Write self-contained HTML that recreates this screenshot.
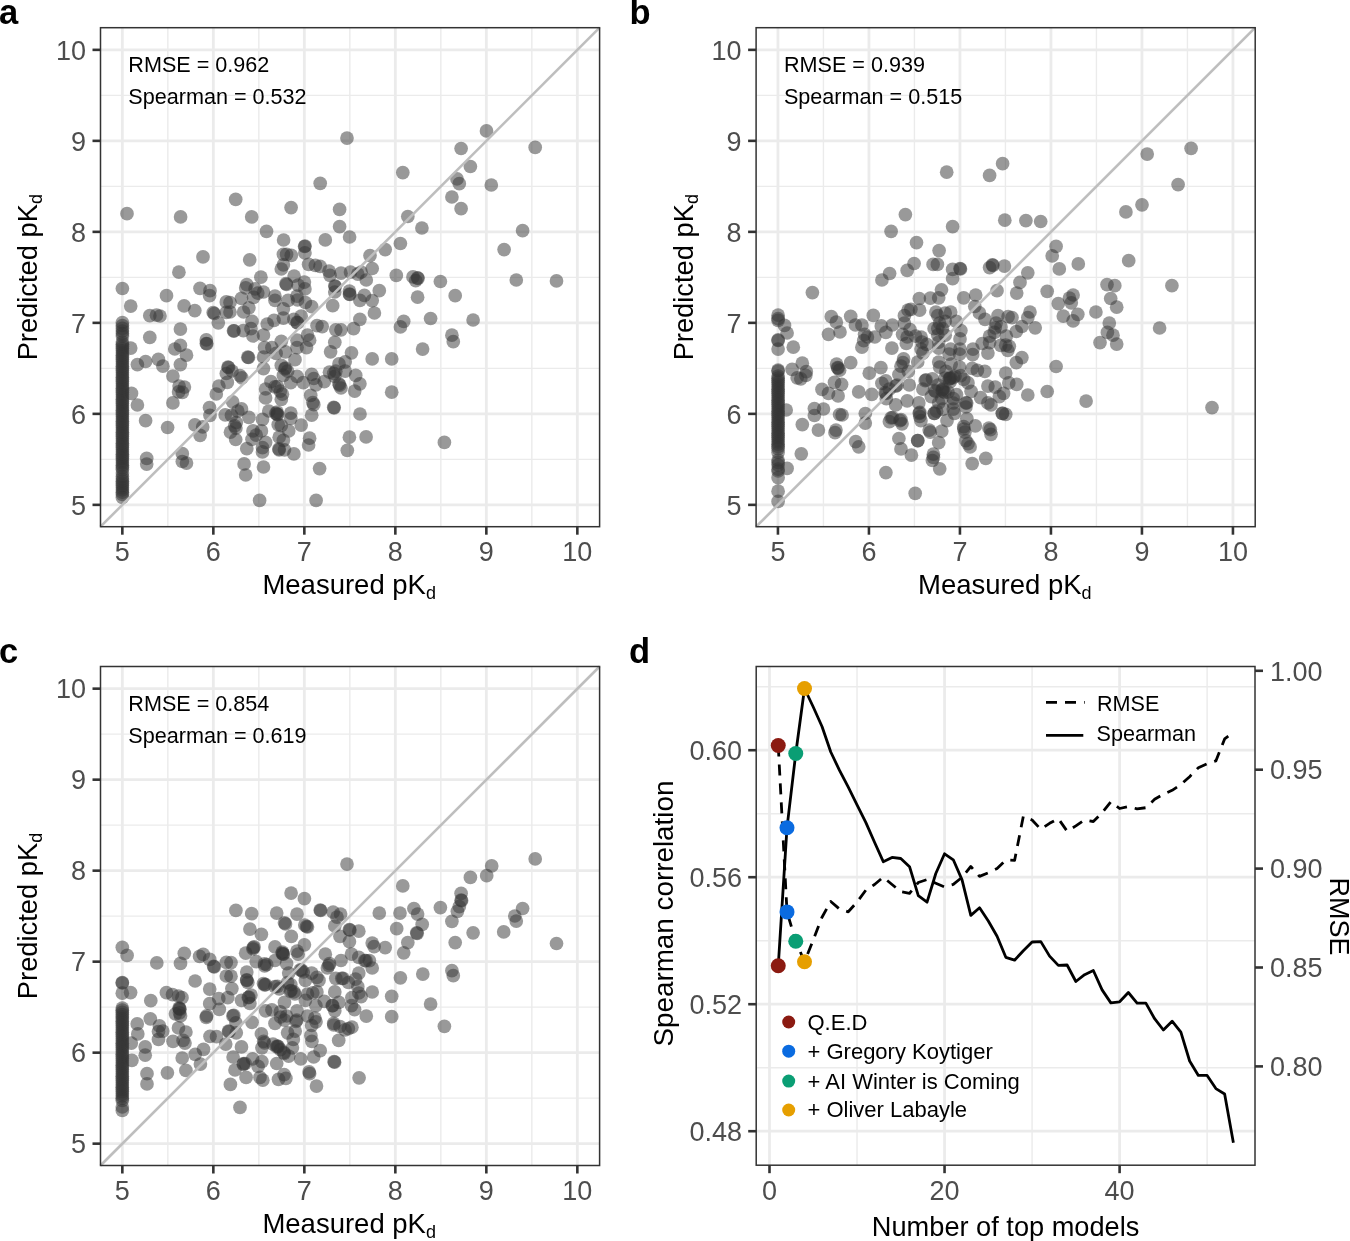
<!DOCTYPE html>
<html><head><meta charset="utf-8"><style>
html,body{margin:0;padding:0;background:#fff;width:1350px;height:1241px;overflow:hidden}
svg{display:block;font-family:"Liberation Sans", sans-serif;will-change:transform}
</style></head><body>
<svg width="1350" height="1241" viewBox="0 0 1350 1241" font-family='"Liberation Sans", sans-serif'>
<rect width="1350" height="1241" fill="#fff"/>
<rect x="100.5" y="27.7" width="499.1" height="499.00000000000006" fill="#fff"/>
<line x1="167.84" y1="27.7" x2="167.84" y2="526.7" stroke="#EBEBEB" stroke-width="1.4"/>
<line x1="100.5" y1="459.36" x2="599.6" y2="459.36" stroke="#EBEBEB" stroke-width="1.4"/>
<line x1="258.84" y1="27.7" x2="258.84" y2="526.7" stroke="#EBEBEB" stroke-width="1.4"/>
<line x1="100.5" y1="368.36" x2="599.6" y2="368.36" stroke="#EBEBEB" stroke-width="1.4"/>
<line x1="349.84" y1="27.7" x2="349.84" y2="526.7" stroke="#EBEBEB" stroke-width="1.4"/>
<line x1="100.5" y1="277.36" x2="599.6" y2="277.36" stroke="#EBEBEB" stroke-width="1.4"/>
<line x1="440.84" y1="27.7" x2="440.84" y2="526.7" stroke="#EBEBEB" stroke-width="1.4"/>
<line x1="100.5" y1="186.36" x2="599.6" y2="186.36" stroke="#EBEBEB" stroke-width="1.4"/>
<line x1="531.84" y1="27.7" x2="531.84" y2="526.7" stroke="#EBEBEB" stroke-width="1.4"/>
<line x1="100.5" y1="95.36" x2="599.6" y2="95.36" stroke="#EBEBEB" stroke-width="1.4"/>
<line x1="122.34" y1="27.7" x2="122.34" y2="526.7" stroke="#EBEBEB" stroke-width="2.8"/>
<line x1="100.5" y1="504.86" x2="599.6" y2="504.86" stroke="#EBEBEB" stroke-width="2.8"/>
<line x1="213.34" y1="27.7" x2="213.34" y2="526.7" stroke="#EBEBEB" stroke-width="2.8"/>
<line x1="100.5" y1="413.86" x2="599.6" y2="413.86" stroke="#EBEBEB" stroke-width="2.8"/>
<line x1="304.34" y1="27.7" x2="304.34" y2="526.7" stroke="#EBEBEB" stroke-width="2.8"/>
<line x1="100.5" y1="322.86" x2="599.6" y2="322.86" stroke="#EBEBEB" stroke-width="2.8"/>
<line x1="395.34" y1="27.7" x2="395.34" y2="526.7" stroke="#EBEBEB" stroke-width="2.8"/>
<line x1="100.5" y1="231.86" x2="599.6" y2="231.86" stroke="#EBEBEB" stroke-width="2.8"/>
<line x1="486.34" y1="27.7" x2="486.34" y2="526.7" stroke="#EBEBEB" stroke-width="2.8"/>
<line x1="100.5" y1="140.86" x2="599.6" y2="140.86" stroke="#EBEBEB" stroke-width="2.8"/>
<line x1="577.34" y1="27.7" x2="577.34" y2="526.7" stroke="#EBEBEB" stroke-width="2.8"/>
<line x1="100.5" y1="49.86" x2="599.6" y2="49.86" stroke="#EBEBEB" stroke-width="2.8"/>
<g fill="#333333" fill-opacity="0.5">
<circle cx="127.0" cy="213.7" r="6.85"/>
<circle cx="180.6" cy="216.9" r="6.85"/>
<circle cx="235.7" cy="199.4" r="6.85"/>
<circle cx="251.7" cy="216.9" r="6.85"/>
<circle cx="291.1" cy="207.6" r="6.85"/>
<circle cx="320.2" cy="183.3" r="6.85"/>
<circle cx="339.6" cy="209.4" r="6.85"/>
<circle cx="339.6" cy="226.7" r="6.85"/>
<circle cx="347.0" cy="138.1" r="6.85"/>
<circle cx="266.5" cy="231.3" r="6.85"/>
<circle cx="486.5" cy="130.9" r="6.85"/>
<circle cx="461.1" cy="148.5" r="6.85"/>
<circle cx="535.2" cy="147.4" r="6.85"/>
<circle cx="402.8" cy="172.6" r="6.85"/>
<circle cx="470.4" cy="166.5" r="6.85"/>
<circle cx="457.0" cy="178.9" r="6.85"/>
<circle cx="459.3" cy="183.7" r="6.85"/>
<circle cx="491.3" cy="185.0" r="6.85"/>
<circle cx="451.9" cy="197.0" r="6.85"/>
<circle cx="461.1" cy="208.7" r="6.85"/>
<circle cx="407.8" cy="216.5" r="6.85"/>
<circle cx="421.9" cy="228.0" r="6.85"/>
<circle cx="522.6" cy="230.7" r="6.85"/>
<circle cx="122.4" cy="288.5" r="6.85"/>
<circle cx="130.7" cy="306.1" r="6.85"/>
<circle cx="149.8" cy="315.7" r="6.85"/>
<circle cx="156.5" cy="315.2" r="6.85"/>
<circle cx="160.0" cy="316.0" r="6.85"/>
<circle cx="166.5" cy="295.7" r="6.85"/>
<circle cx="178.9" cy="272.2" r="6.85"/>
<circle cx="184.1" cy="305.9" r="6.85"/>
<circle cx="194.8" cy="310.6" r="6.85"/>
<circle cx="203.0" cy="256.9" r="6.85"/>
<circle cx="200.0" cy="288.3" r="6.85"/>
<circle cx="210.0" cy="290.7" r="6.85"/>
<circle cx="209.6" cy="295.7" r="6.85"/>
<circle cx="213.2" cy="312.5" r="6.85"/>
<circle cx="214.2" cy="313.5" r="6.85"/>
<circle cx="218.3" cy="322.8" r="6.85"/>
<circle cx="226.3" cy="301.9" r="6.85"/>
<circle cx="226.3" cy="312.4" r="6.85"/>
<circle cx="180.4" cy="329.1" r="6.85"/>
<circle cx="149.8" cy="337.4" r="6.85"/>
<circle cx="206.3" cy="339.8" r="6.85"/>
<circle cx="206.3" cy="343.5" r="6.85"/>
<circle cx="206.8" cy="343.8" r="6.85"/>
<circle cx="180.4" cy="345.4" r="6.85"/>
<circle cx="174.8" cy="349.0" r="6.85"/>
<circle cx="130.7" cy="348.1" r="6.85"/>
<circle cx="234.1" cy="330.9" r="6.85"/>
<circle cx="243.3" cy="330.6" r="6.85"/>
<circle cx="283.6" cy="240.0" r="6.85"/>
<circle cx="349.6" cy="237.0" r="6.85"/>
<circle cx="325.3" cy="239.9" r="6.85"/>
<circle cx="304.6" cy="246.5" r="6.85"/>
<circle cx="305.0" cy="246.0" r="6.85"/>
<circle cx="304.9" cy="252.8" r="6.85"/>
<circle cx="249.7" cy="259.8" r="6.85"/>
<circle cx="283.4" cy="254.3" r="6.85"/>
<circle cx="286.6" cy="254.3" r="6.85"/>
<circle cx="291.3" cy="255.4" r="6.85"/>
<circle cx="283.4" cy="264.8" r="6.85"/>
<circle cx="281.3" cy="269.0" r="6.85"/>
<circle cx="308.6" cy="264.3" r="6.85"/>
<circle cx="315.4" cy="265.3" r="6.85"/>
<circle cx="320.1" cy="266.4" r="6.85"/>
<circle cx="329.0" cy="271.1" r="6.85"/>
<circle cx="330.0" cy="275.3" r="6.85"/>
<circle cx="341.0" cy="273.2" r="6.85"/>
<circle cx="350.5" cy="272.1" r="6.85"/>
<circle cx="357.8" cy="274.2" r="6.85"/>
<circle cx="260.9" cy="277.2" r="6.85"/>
<circle cx="294.1" cy="276.1" r="6.85"/>
<circle cx="286.0" cy="283.7" r="6.85"/>
<circle cx="286.5" cy="284.5" r="6.85"/>
<circle cx="304.4" cy="282.1" r="6.85"/>
<circle cx="298.1" cy="285.2" r="6.85"/>
<circle cx="304.9" cy="288.9" r="6.85"/>
<circle cx="246.8" cy="284.7" r="6.85"/>
<circle cx="245.7" cy="287.9" r="6.85"/>
<circle cx="255.1" cy="288.9" r="6.85"/>
<circle cx="257.8" cy="293.1" r="6.85"/>
<circle cx="263.5" cy="292.0" r="6.85"/>
<circle cx="241.5" cy="298.3" r="6.85"/>
<circle cx="253.6" cy="297.3" r="6.85"/>
<circle cx="275.0" cy="296.2" r="6.85"/>
<circle cx="275.0" cy="300.4" r="6.85"/>
<circle cx="288.1" cy="300.4" r="6.85"/>
<circle cx="297.0" cy="296.2" r="6.85"/>
<circle cx="297.5" cy="300.0" r="6.85"/>
<circle cx="305.4" cy="302.5" r="6.85"/>
<circle cx="311.7" cy="306.7" r="6.85"/>
<circle cx="332.7" cy="305.7" r="6.85"/>
<circle cx="334.8" cy="285.8" r="6.85"/>
<circle cx="335.3" cy="286.5" r="6.85"/>
<circle cx="334.8" cy="292.0" r="6.85"/>
<circle cx="349.4" cy="291.0" r="6.85"/>
<circle cx="349.4" cy="294.1" r="6.85"/>
<circle cx="349.9" cy="294.5" r="6.85"/>
<circle cx="359.9" cy="300.4" r="6.85"/>
<circle cx="248.9" cy="307.8" r="6.85"/>
<circle cx="243.6" cy="312.0" r="6.85"/>
<circle cx="230.0" cy="302.5" r="6.85"/>
<circle cx="230.0" cy="312.0" r="6.85"/>
<circle cx="283.4" cy="308.8" r="6.85"/>
<circle cx="252.0" cy="321.4" r="6.85"/>
<circle cx="267.2" cy="324.0" r="6.85"/>
<circle cx="274.0" cy="320.3" r="6.85"/>
<circle cx="283.4" cy="318.2" r="6.85"/>
<circle cx="293.9" cy="319.3" r="6.85"/>
<circle cx="297.0" cy="322.4" r="6.85"/>
<circle cx="297.5" cy="322.9" r="6.85"/>
<circle cx="301.2" cy="316.1" r="6.85"/>
<circle cx="317.0" cy="325.6" r="6.85"/>
<circle cx="322.2" cy="326.6" r="6.85"/>
<circle cx="335.8" cy="329.8" r="6.85"/>
<circle cx="341.0" cy="329.8" r="6.85"/>
<circle cx="353.6" cy="328.7" r="6.85"/>
<circle cx="359.9" cy="319.3" r="6.85"/>
<circle cx="251.0" cy="328.7" r="6.85"/>
<circle cx="253.0" cy="336.0" r="6.85"/>
<circle cx="263.5" cy="335.0" r="6.85"/>
<circle cx="264.6" cy="347.6" r="6.85"/>
<circle cx="271.9" cy="347.6" r="6.85"/>
<circle cx="281.3" cy="341.3" r="6.85"/>
<circle cx="297.0" cy="340.2" r="6.85"/>
<circle cx="307.5" cy="335.0" r="6.85"/>
<circle cx="309.6" cy="340.2" r="6.85"/>
<circle cx="306.5" cy="347.6" r="6.85"/>
<circle cx="297.0" cy="347.6" r="6.85"/>
<circle cx="334.8" cy="342.3" r="6.85"/>
<circle cx="330.6" cy="351.8" r="6.85"/>
<circle cx="351.5" cy="352.8" r="6.85"/>
<circle cx="285.5" cy="351.8" r="6.85"/>
<circle cx="400.4" cy="243.5" r="6.85"/>
<circle cx="385.2" cy="249.6" r="6.85"/>
<circle cx="370.0" cy="255.6" r="6.85"/>
<circle cx="504.1" cy="249.6" r="6.85"/>
<circle cx="372.2" cy="268.5" r="6.85"/>
<circle cx="361.1" cy="272.2" r="6.85"/>
<circle cx="366.3" cy="280.0" r="6.85"/>
<circle cx="396.3" cy="275.4" r="6.85"/>
<circle cx="413.0" cy="276.9" r="6.85"/>
<circle cx="417.6" cy="277.8" r="6.85"/>
<circle cx="418.0" cy="278.3" r="6.85"/>
<circle cx="415.7" cy="280.6" r="6.85"/>
<circle cx="440.4" cy="281.5" r="6.85"/>
<circle cx="516.3" cy="280.0" r="6.85"/>
<circle cx="556.5" cy="280.9" r="6.85"/>
<circle cx="379.3" cy="290.7" r="6.85"/>
<circle cx="364.4" cy="295.4" r="6.85"/>
<circle cx="372.2" cy="300.6" r="6.85"/>
<circle cx="417.6" cy="297.2" r="6.85"/>
<circle cx="455.2" cy="295.7" r="6.85"/>
<circle cx="374.4" cy="313.0" r="6.85"/>
<circle cx="403.7" cy="321.3" r="6.85"/>
<circle cx="400.4" cy="326.9" r="6.85"/>
<circle cx="430.6" cy="318.5" r="6.85"/>
<circle cx="473.1" cy="320.0" r="6.85"/>
<circle cx="451.9" cy="335.2" r="6.85"/>
<circle cx="453.3" cy="341.7" r="6.85"/>
<circle cx="422.6" cy="349.1" r="6.85"/>
<circle cx="137.4" cy="364.6" r="6.85"/>
<circle cx="145.6" cy="361.5" r="6.85"/>
<circle cx="158.4" cy="359.4" r="6.85"/>
<circle cx="162.9" cy="366.2" r="6.85"/>
<circle cx="186.5" cy="355.2" r="6.85"/>
<circle cx="180.4" cy="364.6" r="6.85"/>
<circle cx="172.9" cy="376.1" r="6.85"/>
<circle cx="179.1" cy="386.1" r="6.85"/>
<circle cx="184.4" cy="387.1" r="6.85"/>
<circle cx="182.3" cy="392.4" r="6.85"/>
<circle cx="178.6" cy="391.9" r="6.85"/>
<circle cx="131.5" cy="393.4" r="6.85"/>
<circle cx="137.4" cy="405.0" r="6.85"/>
<circle cx="172.9" cy="402.9" r="6.85"/>
<circle cx="145.6" cy="420.7" r="6.85"/>
<circle cx="167.6" cy="427.5" r="6.85"/>
<circle cx="146.7" cy="458.4" r="6.85"/>
<circle cx="146.7" cy="464.1" r="6.85"/>
<circle cx="182.3" cy="453.7" r="6.85"/>
<circle cx="182.3" cy="461.5" r="6.85"/>
<circle cx="186.5" cy="463.1" r="6.85"/>
<circle cx="228.0" cy="367.0" r="6.85"/>
<circle cx="232.0" cy="371.0" r="6.85"/>
<circle cx="226.3" cy="373.5" r="6.85"/>
<circle cx="240.0" cy="375.6" r="6.85"/>
<circle cx="227.3" cy="382.4" r="6.85"/>
<circle cx="218.9" cy="386.1" r="6.85"/>
<circle cx="216.3" cy="394.0" r="6.85"/>
<circle cx="232.6" cy="401.8" r="6.85"/>
<circle cx="209.5" cy="407.6" r="6.85"/>
<circle cx="210.0" cy="415.4" r="6.85"/>
<circle cx="225.2" cy="414.9" r="6.85"/>
<circle cx="231.5" cy="415.4" r="6.85"/>
<circle cx="237.8" cy="411.2" r="6.85"/>
<circle cx="194.9" cy="424.9" r="6.85"/>
<circle cx="202.7" cy="426.9" r="6.85"/>
<circle cx="200.1" cy="435.3" r="6.85"/>
<circle cx="230.5" cy="432.2" r="6.85"/>
<circle cx="234.7" cy="425.9" r="6.85"/>
<circle cx="235.7" cy="439.5" r="6.85"/>
<circle cx="248.5" cy="357.5" r="6.85"/>
<circle cx="263.5" cy="357.0" r="6.85"/>
<circle cx="276.1" cy="353.4" r="6.85"/>
<circle cx="295.0" cy="359.7" r="6.85"/>
<circle cx="345.2" cy="361.8" r="6.85"/>
<circle cx="339.0" cy="363.9" r="6.85"/>
<circle cx="281.3" cy="365.4" r="6.85"/>
<circle cx="285.5" cy="368.0" r="6.85"/>
<circle cx="287.6" cy="371.2" r="6.85"/>
<circle cx="283.4" cy="375.4" r="6.85"/>
<circle cx="263.5" cy="368.6" r="6.85"/>
<circle cx="270.9" cy="381.7" r="6.85"/>
<circle cx="275.0" cy="386.9" r="6.85"/>
<circle cx="265.6" cy="389.0" r="6.85"/>
<circle cx="280.3" cy="391.1" r="6.85"/>
<circle cx="282.4" cy="394.2" r="6.85"/>
<circle cx="265.6" cy="397.9" r="6.85"/>
<circle cx="281.3" cy="399.5" r="6.85"/>
<circle cx="297.0" cy="376.4" r="6.85"/>
<circle cx="290.8" cy="382.7" r="6.85"/>
<circle cx="303.3" cy="382.7" r="6.85"/>
<circle cx="311.7" cy="374.3" r="6.85"/>
<circle cx="313.8" cy="378.5" r="6.85"/>
<circle cx="315.9" cy="384.8" r="6.85"/>
<circle cx="324.3" cy="381.7" r="6.85"/>
<circle cx="329.5" cy="372.2" r="6.85"/>
<circle cx="335.8" cy="371.2" r="6.85"/>
<circle cx="334.8" cy="376.4" r="6.85"/>
<circle cx="339.0" cy="383.8" r="6.85"/>
<circle cx="341.0" cy="388.0" r="6.85"/>
<circle cx="345.2" cy="371.2" r="6.85"/>
<circle cx="354.7" cy="391.1" r="6.85"/>
<circle cx="355.7" cy="375.4" r="6.85"/>
<circle cx="359.9" cy="383.8" r="6.85"/>
<circle cx="310.7" cy="395.3" r="6.85"/>
<circle cx="312.8" cy="402.6" r="6.85"/>
<circle cx="313.8" cy="404.7" r="6.85"/>
<circle cx="311.7" cy="415.2" r="6.85"/>
<circle cx="333.7" cy="407.3" r="6.85"/>
<circle cx="334.2" cy="407.8" r="6.85"/>
<circle cx="360.0" cy="414.0" r="6.85"/>
<circle cx="268.8" cy="411.0" r="6.85"/>
<circle cx="277.1" cy="414.1" r="6.85"/>
<circle cx="277.6" cy="414.6" r="6.85"/>
<circle cx="277.1" cy="412.0" r="6.85"/>
<circle cx="290.8" cy="413.1" r="6.85"/>
<circle cx="290.8" cy="418.3" r="6.85"/>
<circle cx="278.2" cy="424.6" r="6.85"/>
<circle cx="281.3" cy="425.7" r="6.85"/>
<circle cx="301.2" cy="425.1" r="6.85"/>
<circle cx="288.7" cy="430.9" r="6.85"/>
<circle cx="262.5" cy="419.4" r="6.85"/>
<circle cx="248.9" cy="417.3" r="6.85"/>
<circle cx="241.5" cy="408.9" r="6.85"/>
<circle cx="236.3" cy="422.5" r="6.85"/>
<circle cx="253.0" cy="430.9" r="6.85"/>
<circle cx="256.2" cy="435.1" r="6.85"/>
<circle cx="261.4" cy="430.9" r="6.85"/>
<circle cx="252.0" cy="439.3" r="6.85"/>
<circle cx="265.6" cy="442.4" r="6.85"/>
<circle cx="262.5" cy="447.7" r="6.85"/>
<circle cx="262.5" cy="451.9" r="6.85"/>
<circle cx="246.8" cy="448.7" r="6.85"/>
<circle cx="279.2" cy="437.2" r="6.85"/>
<circle cx="283.4" cy="440.3" r="6.85"/>
<circle cx="279.2" cy="449.8" r="6.85"/>
<circle cx="284.5" cy="449.8" r="6.85"/>
<circle cx="293.9" cy="453.9" r="6.85"/>
<circle cx="309.6" cy="438.2" r="6.85"/>
<circle cx="308.6" cy="445.0" r="6.85"/>
<circle cx="349.4" cy="437.2" r="6.85"/>
<circle cx="347.3" cy="450.3" r="6.85"/>
<circle cx="366.1" cy="436.9" r="6.85"/>
<circle cx="244.1" cy="463.9" r="6.85"/>
<circle cx="263.5" cy="467.0" r="6.85"/>
<circle cx="319.6" cy="468.6" r="6.85"/>
<circle cx="245.7" cy="475.0" r="6.85"/>
<circle cx="372.2" cy="358.9" r="6.85"/>
<circle cx="391.7" cy="358.9" r="6.85"/>
<circle cx="391.7" cy="392.2" r="6.85"/>
<circle cx="444.4" cy="442.4" r="6.85"/>
<circle cx="259.6" cy="500.4" r="6.85"/>
<circle cx="316.1" cy="500.4" r="6.85"/>
<circle cx="333.7" cy="373.3" r="6.85"/>
<circle cx="339.6" cy="385.2" r="6.85"/>
<circle cx="284.8" cy="368.9" r="6.85"/>
<circle cx="277.4" cy="386.7" r="6.85"/>
<circle cx="275.9" cy="413.3" r="6.85"/>
<circle cx="235.9" cy="428.1" r="6.85"/>
<circle cx="241.9" cy="377.8" r="6.85"/>
<circle cx="278.9" cy="448.9" r="6.85"/>
<circle cx="247.8" cy="357.2" r="6.85"/>
<circle cx="233.5" cy="330.8" r="6.85"/>
<circle cx="228.5" cy="367.5" r="6.85"/>
<circle cx="122.4" cy="322.6" r="6.85"/>
<circle cx="122.4" cy="325.5" r="6.85"/>
<circle cx="122.4" cy="328.4" r="6.85"/>
<circle cx="122.4" cy="331.0" r="6.85"/>
<circle cx="122.4" cy="333.7" r="6.85"/>
<circle cx="122.4" cy="336.0" r="6.85"/>
<circle cx="122.4" cy="342.0" r="6.85"/>
<circle cx="122.4" cy="344.2" r="6.85"/>
<circle cx="122.4" cy="346.4" r="6.85"/>
<circle cx="122.4" cy="348.6" r="6.85"/>
<circle cx="122.4" cy="350.8" r="6.85"/>
<circle cx="122.4" cy="353.0" r="6.85"/>
<circle cx="122.4" cy="355.2" r="6.85"/>
<circle cx="122.4" cy="357.4" r="6.85"/>
<circle cx="122.4" cy="359.6" r="6.85"/>
<circle cx="122.4" cy="361.8" r="6.85"/>
<circle cx="122.4" cy="364.0" r="6.85"/>
<circle cx="122.4" cy="366.2" r="6.85"/>
<circle cx="122.4" cy="368.4" r="6.85"/>
<circle cx="122.4" cy="370.6" r="6.85"/>
<circle cx="122.4" cy="372.8" r="6.85"/>
<circle cx="122.4" cy="375.0" r="6.85"/>
<circle cx="122.4" cy="377.2" r="6.85"/>
<circle cx="122.4" cy="379.4" r="6.85"/>
<circle cx="122.4" cy="381.6" r="6.85"/>
<circle cx="122.4" cy="383.8" r="6.85"/>
<circle cx="122.4" cy="386.0" r="6.85"/>
<circle cx="122.4" cy="388.2" r="6.85"/>
<circle cx="122.4" cy="390.4" r="6.85"/>
<circle cx="122.4" cy="392.6" r="6.85"/>
<circle cx="122.4" cy="394.8" r="6.85"/>
<circle cx="122.4" cy="397.0" r="6.85"/>
<circle cx="122.4" cy="399.2" r="6.85"/>
<circle cx="122.4" cy="401.4" r="6.85"/>
<circle cx="122.4" cy="403.6" r="6.85"/>
<circle cx="122.4" cy="405.8" r="6.85"/>
<circle cx="122.4" cy="408.0" r="6.85"/>
<circle cx="122.4" cy="410.2" r="6.85"/>
<circle cx="122.4" cy="412.4" r="6.85"/>
<circle cx="122.4" cy="414.6" r="6.85"/>
<circle cx="122.4" cy="416.8" r="6.85"/>
<circle cx="122.4" cy="419.0" r="6.85"/>
<circle cx="122.4" cy="421.2" r="6.85"/>
<circle cx="122.4" cy="423.4" r="6.85"/>
<circle cx="122.4" cy="425.6" r="6.85"/>
<circle cx="122.4" cy="427.8" r="6.85"/>
<circle cx="122.4" cy="430.0" r="6.85"/>
<circle cx="122.4" cy="432.2" r="6.85"/>
<circle cx="122.4" cy="434.4" r="6.85"/>
<circle cx="122.4" cy="436.6" r="6.85"/>
<circle cx="122.4" cy="438.8" r="6.85"/>
<circle cx="122.4" cy="441.0" r="6.85"/>
<circle cx="122.4" cy="443.2" r="6.85"/>
<circle cx="122.4" cy="445.4" r="6.85"/>
<circle cx="122.4" cy="447.6" r="6.85"/>
<circle cx="122.4" cy="449.8" r="6.85"/>
<circle cx="122.4" cy="452.0" r="6.85"/>
<circle cx="122.4" cy="454.2" r="6.85"/>
<circle cx="122.4" cy="456.4" r="6.85"/>
<circle cx="122.4" cy="458.6" r="6.85"/>
<circle cx="122.4" cy="460.8" r="6.85"/>
<circle cx="122.4" cy="463.0" r="6.85"/>
<circle cx="122.4" cy="465.2" r="6.85"/>
<circle cx="122.4" cy="467.4" r="6.85"/>
<circle cx="122.4" cy="469.6" r="6.85"/>
<circle cx="122.4" cy="473.0" r="6.85"/>
<circle cx="122.4" cy="476.5" r="6.85"/>
<circle cx="122.4" cy="479.0" r="6.85"/>
<circle cx="122.4" cy="481.2" r="6.85"/>
<circle cx="122.4" cy="483.4" r="6.85"/>
<circle cx="122.4" cy="485.6" r="6.85"/>
<circle cx="122.4" cy="487.8" r="6.85"/>
<circle cx="122.4" cy="490.0" r="6.85"/>
<circle cx="122.4" cy="492.2" r="6.85"/>
<circle cx="122.4" cy="494.4" r="6.85"/>
<circle cx="122.4" cy="497.5" r="6.85"/>
</g>
<line x1="100.5" y1="526.7" x2="599.6" y2="27.7" stroke="#BEBEBE" stroke-width="2.6"/>
<text x="128.3" y="71.9" font-size="21.6" fill="#000">RMSE = 0.962</text>
<text x="128.3" y="103.7" font-size="21.6" fill="#000">Spearman = 0.532</text>
<rect x="100.5" y="27.7" width="499.1" height="499.00000000000006" fill="none" stroke="#333333" stroke-width="1.5"/>
<line x1="122.34" y1="526.7" x2="122.34" y2="534.7" stroke="#333333" stroke-width="2.6"/>
<line x1="92.5" y1="504.86" x2="100.5" y2="504.86" stroke="#333333" stroke-width="2.6"/>
<text x="122.34" y="561.2" font-size="27" fill="#4D4D4D" text-anchor="middle">5</text>
<text x="86.0" y="514.56" font-size="27" fill="#4D4D4D" text-anchor="end">5</text>
<line x1="213.34" y1="526.7" x2="213.34" y2="534.7" stroke="#333333" stroke-width="2.6"/>
<line x1="92.5" y1="413.86" x2="100.5" y2="413.86" stroke="#333333" stroke-width="2.6"/>
<text x="213.34" y="561.2" font-size="27" fill="#4D4D4D" text-anchor="middle">6</text>
<text x="86.0" y="423.56" font-size="27" fill="#4D4D4D" text-anchor="end">6</text>
<line x1="304.34" y1="526.7" x2="304.34" y2="534.7" stroke="#333333" stroke-width="2.6"/>
<line x1="92.5" y1="322.86" x2="100.5" y2="322.86" stroke="#333333" stroke-width="2.6"/>
<text x="304.34" y="561.2" font-size="27" fill="#4D4D4D" text-anchor="middle">7</text>
<text x="86.0" y="332.56" font-size="27" fill="#4D4D4D" text-anchor="end">7</text>
<line x1="395.34" y1="526.7" x2="395.34" y2="534.7" stroke="#333333" stroke-width="2.6"/>
<line x1="92.5" y1="231.86" x2="100.5" y2="231.86" stroke="#333333" stroke-width="2.6"/>
<text x="395.34" y="561.2" font-size="27" fill="#4D4D4D" text-anchor="middle">8</text>
<text x="86.0" y="241.56" font-size="27" fill="#4D4D4D" text-anchor="end">8</text>
<line x1="486.34" y1="526.7" x2="486.34" y2="534.7" stroke="#333333" stroke-width="2.6"/>
<line x1="92.5" y1="140.86" x2="100.5" y2="140.86" stroke="#333333" stroke-width="2.6"/>
<text x="486.34" y="561.2" font-size="27" fill="#4D4D4D" text-anchor="middle">9</text>
<text x="86.0" y="150.56" font-size="27" fill="#4D4D4D" text-anchor="end">9</text>
<line x1="577.34" y1="526.7" x2="577.34" y2="534.7" stroke="#333333" stroke-width="2.6"/>
<line x1="92.5" y1="49.86" x2="100.5" y2="49.86" stroke="#333333" stroke-width="2.6"/>
<text x="577.34" y="561.2" font-size="27" fill="#4D4D4D" text-anchor="middle">10</text>
<text x="86.0" y="59.56" font-size="27" fill="#4D4D4D" text-anchor="end">10</text>
<text x="349.2" y="594" font-size="27.5" fill="#000" text-anchor="middle">Measured pK<tspan font-size="18" dy="5.2">d</tspan></text>
<text transform="translate(37.1,277.2) rotate(-90)" font-size="27.3" fill="#000" text-anchor="middle">Predicted pK<tspan font-size="18" dy="5.2">d</tspan></text>
<text x="-1.0" y="24" font-size="34.5" font-weight="bold" fill="#000">a</text>
<rect x="756.1" y="27.7" width="499.1" height="499.00000000000006" fill="#fff"/>
<line x1="823.44" y1="27.7" x2="823.44" y2="526.7" stroke="#EBEBEB" stroke-width="1.4"/>
<line x1="756.1" y1="459.36" x2="1255.2" y2="459.36" stroke="#EBEBEB" stroke-width="1.4"/>
<line x1="914.44" y1="27.7" x2="914.44" y2="526.7" stroke="#EBEBEB" stroke-width="1.4"/>
<line x1="756.1" y1="368.36" x2="1255.2" y2="368.36" stroke="#EBEBEB" stroke-width="1.4"/>
<line x1="1005.44" y1="27.7" x2="1005.44" y2="526.7" stroke="#EBEBEB" stroke-width="1.4"/>
<line x1="756.1" y1="277.36" x2="1255.2" y2="277.36" stroke="#EBEBEB" stroke-width="1.4"/>
<line x1="1096.44" y1="27.7" x2="1096.44" y2="526.7" stroke="#EBEBEB" stroke-width="1.4"/>
<line x1="756.1" y1="186.36" x2="1255.2" y2="186.36" stroke="#EBEBEB" stroke-width="1.4"/>
<line x1="1187.44" y1="27.7" x2="1187.44" y2="526.7" stroke="#EBEBEB" stroke-width="1.4"/>
<line x1="756.1" y1="95.36" x2="1255.2" y2="95.36" stroke="#EBEBEB" stroke-width="1.4"/>
<line x1="777.94" y1="27.7" x2="777.94" y2="526.7" stroke="#EBEBEB" stroke-width="2.8"/>
<line x1="756.1" y1="504.86" x2="1255.2" y2="504.86" stroke="#EBEBEB" stroke-width="2.8"/>
<line x1="868.94" y1="27.7" x2="868.94" y2="526.7" stroke="#EBEBEB" stroke-width="2.8"/>
<line x1="756.1" y1="413.86" x2="1255.2" y2="413.86" stroke="#EBEBEB" stroke-width="2.8"/>
<line x1="959.94" y1="27.7" x2="959.94" y2="526.7" stroke="#EBEBEB" stroke-width="2.8"/>
<line x1="756.1" y1="322.86" x2="1255.2" y2="322.86" stroke="#EBEBEB" stroke-width="2.8"/>
<line x1="1050.94" y1="27.7" x2="1050.94" y2="526.7" stroke="#EBEBEB" stroke-width="2.8"/>
<line x1="756.1" y1="231.86" x2="1255.2" y2="231.86" stroke="#EBEBEB" stroke-width="2.8"/>
<line x1="1141.94" y1="27.7" x2="1141.94" y2="526.7" stroke="#EBEBEB" stroke-width="2.8"/>
<line x1="756.1" y1="140.86" x2="1255.2" y2="140.86" stroke="#EBEBEB" stroke-width="2.8"/>
<line x1="1232.94" y1="27.7" x2="1232.94" y2="526.7" stroke="#EBEBEB" stroke-width="2.8"/>
<line x1="756.1" y1="49.86" x2="1255.2" y2="49.86" stroke="#EBEBEB" stroke-width="2.8"/>
<g fill="#333333" fill-opacity="0.5">
<circle cx="946.7" cy="172.2" r="6.85"/>
<circle cx="989.6" cy="175.4" r="6.85"/>
<circle cx="1002.6" cy="163.7" r="6.85"/>
<circle cx="905.4" cy="214.6" r="6.85"/>
<circle cx="891.1" cy="231.3" r="6.85"/>
<circle cx="952.6" cy="226.7" r="6.85"/>
<circle cx="1004.8" cy="220.2" r="6.85"/>
<circle cx="1025.9" cy="220.6" r="6.85"/>
<circle cx="1040.7" cy="221.5" r="6.85"/>
<circle cx="1147.2" cy="154.1" r="6.85"/>
<circle cx="1191.1" cy="148.3" r="6.85"/>
<circle cx="1178.1" cy="184.6" r="6.85"/>
<circle cx="1142.0" cy="204.8" r="6.85"/>
<circle cx="1125.9" cy="211.9" r="6.85"/>
<circle cx="916.5" cy="242.6" r="6.85"/>
<circle cx="939.1" cy="250.6" r="6.85"/>
<circle cx="914.1" cy="263.5" r="6.85"/>
<circle cx="907.2" cy="270.4" r="6.85"/>
<circle cx="889.6" cy="273.5" r="6.85"/>
<circle cx="881.9" cy="280.0" r="6.85"/>
<circle cx="933.1" cy="264.4" r="6.85"/>
<circle cx="937.4" cy="264.4" r="6.85"/>
<circle cx="952.6" cy="269.4" r="6.85"/>
<circle cx="960.0" cy="268.5" r="6.85"/>
<circle cx="960.5" cy="269.0" r="6.85"/>
<circle cx="952.6" cy="278.7" r="6.85"/>
<circle cx="989.6" cy="267.6" r="6.85"/>
<circle cx="992.4" cy="264.8" r="6.85"/>
<circle cx="992.9" cy="265.3" r="6.85"/>
<circle cx="1004.4" cy="266.1" r="6.85"/>
<circle cx="812.4" cy="292.6" r="6.85"/>
<circle cx="941.5" cy="289.8" r="6.85"/>
<circle cx="938.7" cy="297.8" r="6.85"/>
<circle cx="930.4" cy="298.1" r="6.85"/>
<circle cx="919.3" cy="298.5" r="6.85"/>
<circle cx="963.7" cy="297.8" r="6.85"/>
<circle cx="975.7" cy="295.0" r="6.85"/>
<circle cx="997.0" cy="290.7" r="6.85"/>
<circle cx="974.8" cy="306.5" r="6.85"/>
<circle cx="979.4" cy="312.9" r="6.85"/>
<circle cx="985.0" cy="319.4" r="6.85"/>
<circle cx="831.3" cy="316.7" r="6.85"/>
<circle cx="836.3" cy="322.2" r="6.85"/>
<circle cx="840.0" cy="332.0" r="6.85"/>
<circle cx="828.5" cy="334.3" r="6.85"/>
<circle cx="850.7" cy="316.3" r="6.85"/>
<circle cx="855.4" cy="325.0" r="6.85"/>
<circle cx="861.9" cy="325.0" r="6.85"/>
<circle cx="864.6" cy="334.3" r="6.85"/>
<circle cx="867.4" cy="337.0" r="6.85"/>
<circle cx="863.7" cy="340.7" r="6.85"/>
<circle cx="874.8" cy="337.0" r="6.85"/>
<circle cx="873.3" cy="315.4" r="6.85"/>
<circle cx="881.3" cy="325.9" r="6.85"/>
<circle cx="885.9" cy="332.4" r="6.85"/>
<circle cx="892.4" cy="325.0" r="6.85"/>
<circle cx="904.4" cy="315.7" r="6.85"/>
<circle cx="908.1" cy="310.2" r="6.85"/>
<circle cx="910.9" cy="309.3" r="6.85"/>
<circle cx="919.6" cy="310.2" r="6.85"/>
<circle cx="904.4" cy="323.1" r="6.85"/>
<circle cx="910.0" cy="329.6" r="6.85"/>
<circle cx="902.6" cy="334.3" r="6.85"/>
<circle cx="907.2" cy="337.0" r="6.85"/>
<circle cx="906.3" cy="343.5" r="6.85"/>
<circle cx="915.6" cy="336.1" r="6.85"/>
<circle cx="921.1" cy="337.0" r="6.85"/>
<circle cx="926.7" cy="344.4" r="6.85"/>
<circle cx="935.9" cy="312.0" r="6.85"/>
<circle cx="937.8" cy="315.7" r="6.85"/>
<circle cx="945.2" cy="313.0" r="6.85"/>
<circle cx="950.7" cy="312.0" r="6.85"/>
<circle cx="939.6" cy="323.1" r="6.85"/>
<circle cx="945.2" cy="321.3" r="6.85"/>
<circle cx="934.1" cy="328.7" r="6.85"/>
<circle cx="937.8" cy="328.7" r="6.85"/>
<circle cx="942.4" cy="328.7" r="6.85"/>
<circle cx="937.8" cy="335.2" r="6.85"/>
<circle cx="945.2" cy="335.2" r="6.85"/>
<circle cx="956.3" cy="321.3" r="6.85"/>
<circle cx="960.9" cy="330.6" r="6.85"/>
<circle cx="960.0" cy="338.9" r="6.85"/>
<circle cx="998.0" cy="315.7" r="6.85"/>
<circle cx="996.1" cy="323.1" r="6.85"/>
<circle cx="995.2" cy="327.8" r="6.85"/>
<circle cx="994.3" cy="332.4" r="6.85"/>
<circle cx="989.6" cy="336.1" r="6.85"/>
<circle cx="1008.1" cy="316.7" r="6.85"/>
<circle cx="1006.3" cy="336.1" r="6.85"/>
<circle cx="989.6" cy="342.6" r="6.85"/>
<circle cx="982.2" cy="343.5" r="6.85"/>
<circle cx="1000.7" cy="345.4" r="6.85"/>
<circle cx="861.9" cy="347.2" r="6.85"/>
<circle cx="891.9" cy="348.1" r="6.85"/>
<circle cx="921.1" cy="349.1" r="6.85"/>
<circle cx="938.7" cy="348.1" r="6.85"/>
<circle cx="950.7" cy="349.1" r="6.85"/>
<circle cx="960.0" cy="349.1" r="6.85"/>
<circle cx="973.0" cy="349.1" r="6.85"/>
<circle cx="793.3" cy="347.2" r="6.85"/>
<circle cx="784.5" cy="325.4" r="6.85"/>
<circle cx="787.1" cy="333.0" r="6.85"/>
<circle cx="1056.1" cy="246.3" r="6.85"/>
<circle cx="1052.2" cy="255.9" r="6.85"/>
<circle cx="1059.3" cy="268.9" r="6.85"/>
<circle cx="1078.3" cy="263.9" r="6.85"/>
<circle cx="1128.7" cy="260.7" r="6.85"/>
<circle cx="1027.8" cy="272.8" r="6.85"/>
<circle cx="1020.0" cy="282.4" r="6.85"/>
<circle cx="1016.7" cy="293.1" r="6.85"/>
<circle cx="1047.2" cy="291.3" r="6.85"/>
<circle cx="1107.0" cy="284.6" r="6.85"/>
<circle cx="1114.8" cy="285.7" r="6.85"/>
<circle cx="1110.7" cy="298.5" r="6.85"/>
<circle cx="1116.7" cy="307.2" r="6.85"/>
<circle cx="1171.9" cy="285.7" r="6.85"/>
<circle cx="1073.1" cy="295.0" r="6.85"/>
<circle cx="1069.4" cy="298.1" r="6.85"/>
<circle cx="1071.3" cy="302.8" r="6.85"/>
<circle cx="1058.3" cy="303.7" r="6.85"/>
<circle cx="1077.8" cy="314.3" r="6.85"/>
<circle cx="1063.3" cy="316.1" r="6.85"/>
<circle cx="1073.1" cy="320.9" r="6.85"/>
<circle cx="1095.9" cy="312.0" r="6.85"/>
<circle cx="1109.3" cy="323.1" r="6.85"/>
<circle cx="1107.4" cy="332.4" r="6.85"/>
<circle cx="1113.0" cy="335.2" r="6.85"/>
<circle cx="1100.0" cy="342.6" r="6.85"/>
<circle cx="1116.7" cy="344.1" r="6.85"/>
<circle cx="1159.6" cy="328.0" r="6.85"/>
<circle cx="1030.0" cy="312.0" r="6.85"/>
<circle cx="1027.8" cy="317.6" r="6.85"/>
<circle cx="1012.0" cy="317.6" r="6.85"/>
<circle cx="1035.2" cy="327.8" r="6.85"/>
<circle cx="1021.9" cy="326.5" r="6.85"/>
<circle cx="1016.3" cy="331.5" r="6.85"/>
<circle cx="1009.3" cy="346.3" r="6.85"/>
<circle cx="1001.0" cy="326.9" r="6.85"/>
<circle cx="802.3" cy="363.2" r="6.85"/>
<circle cx="806.3" cy="371.7" r="6.85"/>
<circle cx="805.8" cy="375.3" r="6.85"/>
<circle cx="800.8" cy="378.8" r="6.85"/>
<circle cx="836.6" cy="364.2" r="6.85"/>
<circle cx="837.6" cy="367.7" r="6.85"/>
<circle cx="838.1" cy="368.2" r="6.85"/>
<circle cx="839.6" cy="370.2" r="6.85"/>
<circle cx="850.7" cy="362.7" r="6.85"/>
<circle cx="869.3" cy="373.2" r="6.85"/>
<circle cx="880.9" cy="367.7" r="6.85"/>
<circle cx="834.5" cy="382.3" r="6.85"/>
<circle cx="841.6" cy="384.3" r="6.85"/>
<circle cx="822.0" cy="389.4" r="6.85"/>
<circle cx="828.5" cy="393.4" r="6.85"/>
<circle cx="838.1" cy="395.9" r="6.85"/>
<circle cx="858.7" cy="391.9" r="6.85"/>
<circle cx="871.8" cy="394.4" r="6.85"/>
<circle cx="881.9" cy="383.3" r="6.85"/>
<circle cx="786.2" cy="410.0" r="6.85"/>
<circle cx="814.4" cy="408.5" r="6.85"/>
<circle cx="823.5" cy="409.0" r="6.85"/>
<circle cx="814.4" cy="415.5" r="6.85"/>
<circle cx="839.6" cy="414.5" r="6.85"/>
<circle cx="842.1" cy="415.0" r="6.85"/>
<circle cx="865.3" cy="413.5" r="6.85"/>
<circle cx="865.3" cy="423.1" r="6.85"/>
<circle cx="802.3" cy="424.6" r="6.85"/>
<circle cx="818.4" cy="430.1" r="6.85"/>
<circle cx="836.0" cy="430.1" r="6.85"/>
<circle cx="835.0" cy="432.7" r="6.85"/>
<circle cx="855.7" cy="441.7" r="6.85"/>
<circle cx="858.7" cy="446.8" r="6.85"/>
<circle cx="801.3" cy="453.8" r="6.85"/>
<circle cx="792.1" cy="369.4" r="6.85"/>
<circle cx="797.2" cy="377.8" r="6.85"/>
<circle cx="787.1" cy="468.4" r="6.85"/>
<circle cx="921.9" cy="342.1" r="6.85"/>
<circle cx="938.7" cy="342.1" r="6.85"/>
<circle cx="1005.7" cy="345.2" r="6.85"/>
<circle cx="1007.8" cy="350.5" r="6.85"/>
<circle cx="922.9" cy="353.1" r="6.85"/>
<circle cx="949.1" cy="354.1" r="6.85"/>
<circle cx="959.6" cy="354.1" r="6.85"/>
<circle cx="972.7" cy="354.7" r="6.85"/>
<circle cx="987.9" cy="353.1" r="6.85"/>
<circle cx="903.6" cy="358.9" r="6.85"/>
<circle cx="903.0" cy="362.5" r="6.85"/>
<circle cx="917.7" cy="362.0" r="6.85"/>
<circle cx="938.7" cy="362.0" r="6.85"/>
<circle cx="951.2" cy="364.1" r="6.85"/>
<circle cx="959.6" cy="367.2" r="6.85"/>
<circle cx="901.0" cy="366.2" r="6.85"/>
<circle cx="908.3" cy="371.4" r="6.85"/>
<circle cx="939.7" cy="367.2" r="6.85"/>
<circle cx="972.2" cy="368.3" r="6.85"/>
<circle cx="977.4" cy="370.4" r="6.85"/>
<circle cx="984.8" cy="371.4" r="6.85"/>
<circle cx="1005.7" cy="373.0" r="6.85"/>
<circle cx="946.0" cy="371.4" r="6.85"/>
<circle cx="898.9" cy="374.6" r="6.85"/>
<circle cx="885.8" cy="380.9" r="6.85"/>
<circle cx="926.1" cy="379.8" r="6.85"/>
<circle cx="932.4" cy="378.8" r="6.85"/>
<circle cx="949.1" cy="378.8" r="6.85"/>
<circle cx="953.3" cy="377.7" r="6.85"/>
<circle cx="960.7" cy="375.6" r="6.85"/>
<circle cx="968.0" cy="382.9" r="6.85"/>
<circle cx="987.9" cy="386.1" r="6.85"/>
<circle cx="995.2" cy="387.1" r="6.85"/>
<circle cx="1008.8" cy="382.9" r="6.85"/>
<circle cx="889.4" cy="389.2" r="6.85"/>
<circle cx="895.7" cy="386.1" r="6.85"/>
<circle cx="909.3" cy="385.0" r="6.85"/>
<circle cx="922.9" cy="389.2" r="6.85"/>
<circle cx="934.5" cy="390.3" r="6.85"/>
<circle cx="942.9" cy="389.2" r="6.85"/>
<circle cx="944.9" cy="392.4" r="6.85"/>
<circle cx="956.5" cy="394.5" r="6.85"/>
<circle cx="971.1" cy="391.3" r="6.85"/>
<circle cx="980.6" cy="397.6" r="6.85"/>
<circle cx="1003.6" cy="393.4" r="6.85"/>
<circle cx="999.4" cy="396.6" r="6.85"/>
<circle cx="886.3" cy="398.7" r="6.85"/>
<circle cx="895.7" cy="404.9" r="6.85"/>
<circle cx="907.2" cy="400.8" r="6.85"/>
<circle cx="918.8" cy="402.9" r="6.85"/>
<circle cx="931.3" cy="396.6" r="6.85"/>
<circle cx="941.8" cy="398.7" r="6.85"/>
<circle cx="938.7" cy="402.9" r="6.85"/>
<circle cx="953.3" cy="398.7" r="6.85"/>
<circle cx="965.9" cy="402.9" r="6.85"/>
<circle cx="987.9" cy="402.9" r="6.85"/>
<circle cx="991.0" cy="404.9" r="6.85"/>
<circle cx="919.8" cy="412.3" r="6.85"/>
<circle cx="919.8" cy="416.5" r="6.85"/>
<circle cx="934.5" cy="413.3" r="6.85"/>
<circle cx="936.6" cy="411.2" r="6.85"/>
<circle cx="942.9" cy="409.1" r="6.85"/>
<circle cx="953.3" cy="409.1" r="6.85"/>
<circle cx="954.4" cy="413.3" r="6.85"/>
<circle cx="965.9" cy="407.0" r="6.85"/>
<circle cx="1002.6" cy="413.3" r="6.85"/>
<circle cx="1005.7" cy="414.4" r="6.85"/>
<circle cx="889.4" cy="421.7" r="6.85"/>
<circle cx="892.6" cy="417.5" r="6.85"/>
<circle cx="901.0" cy="419.6" r="6.85"/>
<circle cx="902.0" cy="423.8" r="6.85"/>
<circle cx="920.9" cy="420.7" r="6.85"/>
<circle cx="947.0" cy="420.7" r="6.85"/>
<circle cx="966.9" cy="418.6" r="6.85"/>
<circle cx="975.3" cy="425.9" r="6.85"/>
<circle cx="988.9" cy="428.0" r="6.85"/>
<circle cx="991.0" cy="434.3" r="6.85"/>
<circle cx="929.2" cy="430.1" r="6.85"/>
<circle cx="930.3" cy="432.2" r="6.85"/>
<circle cx="941.8" cy="431.1" r="6.85"/>
<circle cx="963.8" cy="429.0" r="6.85"/>
<circle cx="964.9" cy="432.2" r="6.85"/>
<circle cx="898.9" cy="438.5" r="6.85"/>
<circle cx="917.7" cy="440.6" r="6.85"/>
<circle cx="938.7" cy="442.7" r="6.85"/>
<circle cx="901.0" cy="448.9" r="6.85"/>
<circle cx="965.9" cy="440.6" r="6.85"/>
<circle cx="970.1" cy="446.9" r="6.85"/>
<circle cx="968.0" cy="443.7" r="6.85"/>
<circle cx="911.4" cy="455.2" r="6.85"/>
<circle cx="933.4" cy="454.2" r="6.85"/>
<circle cx="933.4" cy="457.3" r="6.85"/>
<circle cx="932.4" cy="460.5" r="6.85"/>
<circle cx="985.8" cy="458.4" r="6.85"/>
<circle cx="972.2" cy="463.6" r="6.85"/>
<circle cx="939.7" cy="468.8" r="6.85"/>
<circle cx="1021.9" cy="357.6" r="6.85"/>
<circle cx="1016.3" cy="362.6" r="6.85"/>
<circle cx="1056.1" cy="366.5" r="6.85"/>
<circle cx="1016.7" cy="384.4" r="6.85"/>
<circle cx="1027.8" cy="395.0" r="6.85"/>
<circle cx="1047.2" cy="391.5" r="6.85"/>
<circle cx="1086.1" cy="401.1" r="6.85"/>
<circle cx="1212.0" cy="407.6" r="6.85"/>
<circle cx="885.9" cy="472.6" r="6.85"/>
<circle cx="915.2" cy="493.3" r="6.85"/>
<circle cx="778.1" cy="315.2" r="6.85"/>
<circle cx="778.1" cy="318.6" r="6.85"/>
<circle cx="778.1" cy="320.4" r="6.85"/>
<circle cx="778.1" cy="339.8" r="6.85"/>
<circle cx="778.1" cy="340.5" r="6.85"/>
<circle cx="778.1" cy="349.1" r="6.85"/>
<circle cx="778.1" cy="370.2" r="6.85"/>
<circle cx="778.1" cy="371.0" r="6.85"/>
<circle cx="778.1" cy="376.0" r="6.85"/>
<circle cx="778.1" cy="378.2" r="6.85"/>
<circle cx="778.1" cy="380.4" r="6.85"/>
<circle cx="778.1" cy="382.6" r="6.85"/>
<circle cx="778.1" cy="384.8" r="6.85"/>
<circle cx="778.1" cy="387.0" r="6.85"/>
<circle cx="778.1" cy="389.2" r="6.85"/>
<circle cx="778.1" cy="391.4" r="6.85"/>
<circle cx="778.1" cy="393.6" r="6.85"/>
<circle cx="778.1" cy="395.8" r="6.85"/>
<circle cx="778.1" cy="398.0" r="6.85"/>
<circle cx="778.1" cy="400.2" r="6.85"/>
<circle cx="778.1" cy="402.4" r="6.85"/>
<circle cx="778.1" cy="404.6" r="6.85"/>
<circle cx="778.1" cy="406.8" r="6.85"/>
<circle cx="778.1" cy="409.0" r="6.85"/>
<circle cx="778.1" cy="411.2" r="6.85"/>
<circle cx="778.1" cy="413.4" r="6.85"/>
<circle cx="778.1" cy="415.6" r="6.85"/>
<circle cx="778.1" cy="417.8" r="6.85"/>
<circle cx="778.1" cy="420.0" r="6.85"/>
<circle cx="778.1" cy="422.2" r="6.85"/>
<circle cx="778.1" cy="424.4" r="6.85"/>
<circle cx="778.1" cy="426.6" r="6.85"/>
<circle cx="778.1" cy="428.8" r="6.85"/>
<circle cx="778.1" cy="431.0" r="6.85"/>
<circle cx="778.1" cy="433.2" r="6.85"/>
<circle cx="778.1" cy="435.4" r="6.85"/>
<circle cx="778.1" cy="437.6" r="6.85"/>
<circle cx="778.1" cy="439.8" r="6.85"/>
<circle cx="778.1" cy="442.0" r="6.85"/>
<circle cx="778.1" cy="444.2" r="6.85"/>
<circle cx="778.1" cy="446.4" r="6.85"/>
<circle cx="778.1" cy="448.6" r="6.85"/>
<circle cx="778.1" cy="452.3" r="6.85"/>
<circle cx="778.1" cy="460.0" r="6.85"/>
<circle cx="778.1" cy="462.4" r="6.85"/>
<circle cx="778.1" cy="465.0" r="6.85"/>
<circle cx="778.1" cy="469.2" r="6.85"/>
<circle cx="778.1" cy="471.0" r="6.85"/>
<circle cx="778.1" cy="477.7" r="6.85"/>
<circle cx="778.1" cy="491.2" r="6.85"/>
<circle cx="778.1" cy="501.4" r="6.85"/>
<circle cx="945.0" cy="378.0" r="6.85"/>
<circle cx="950.0" cy="382.0" r="6.85"/>
<circle cx="955.0" cy="376.0" r="6.85"/>
<circle cx="942.0" cy="390.0" r="6.85"/>
<circle cx="948.0" cy="392.0" r="6.85"/>
<circle cx="938.0" cy="385.0" r="6.85"/>
<circle cx="935.7" cy="391.5" r="6.85"/>
<circle cx="950.0" cy="378.6" r="6.85"/>
<circle cx="885.2" cy="392.6" r="6.85"/>
<circle cx="886.0" cy="393.5" r="6.85"/>
<circle cx="897.0" cy="385.2" r="6.85"/>
<circle cx="891.1" cy="417.8" r="6.85"/>
<circle cx="900.0" cy="420.7" r="6.85"/>
<circle cx="919.3" cy="413.3" r="6.85"/>
<circle cx="925.2" cy="380.7" r="6.85"/>
<circle cx="934.1" cy="413.3" r="6.85"/>
<circle cx="950.4" cy="377.8" r="6.85"/>
<circle cx="943.0" cy="391.1" r="6.85"/>
<circle cx="966.7" cy="403.0" r="6.85"/>
<circle cx="963.7" cy="426.7" r="6.85"/>
<circle cx="990.4" cy="429.6" r="6.85"/>
<circle cx="917.8" cy="440.7" r="6.85"/>
<circle cx="1002.2" cy="413.3" r="6.85"/>
<circle cx="963.7" cy="379.3" r="6.85"/>
<circle cx="953.3" cy="403.0" r="6.85"/>
</g>
<line x1="756.1" y1="526.7" x2="1255.2" y2="27.7" stroke="#BEBEBE" stroke-width="2.6"/>
<text x="783.9000000000001" y="71.9" font-size="21.6" fill="#000">RMSE = 0.939</text>
<text x="783.9000000000001" y="103.7" font-size="21.6" fill="#000">Spearman = 0.515</text>
<rect x="756.1" y="27.7" width="499.1" height="499.00000000000006" fill="none" stroke="#333333" stroke-width="1.5"/>
<line x1="777.94" y1="526.7" x2="777.94" y2="534.7" stroke="#333333" stroke-width="2.6"/>
<line x1="748.1" y1="504.86" x2="756.1" y2="504.86" stroke="#333333" stroke-width="2.6"/>
<text x="777.94" y="561.2" font-size="27" fill="#4D4D4D" text-anchor="middle">5</text>
<text x="741.6" y="514.56" font-size="27" fill="#4D4D4D" text-anchor="end">5</text>
<line x1="868.94" y1="526.7" x2="868.94" y2="534.7" stroke="#333333" stroke-width="2.6"/>
<line x1="748.1" y1="413.86" x2="756.1" y2="413.86" stroke="#333333" stroke-width="2.6"/>
<text x="868.94" y="561.2" font-size="27" fill="#4D4D4D" text-anchor="middle">6</text>
<text x="741.6" y="423.56" font-size="27" fill="#4D4D4D" text-anchor="end">6</text>
<line x1="959.94" y1="526.7" x2="959.94" y2="534.7" stroke="#333333" stroke-width="2.6"/>
<line x1="748.1" y1="322.86" x2="756.1" y2="322.86" stroke="#333333" stroke-width="2.6"/>
<text x="959.94" y="561.2" font-size="27" fill="#4D4D4D" text-anchor="middle">7</text>
<text x="741.6" y="332.56" font-size="27" fill="#4D4D4D" text-anchor="end">7</text>
<line x1="1050.94" y1="526.7" x2="1050.94" y2="534.7" stroke="#333333" stroke-width="2.6"/>
<line x1="748.1" y1="231.86" x2="756.1" y2="231.86" stroke="#333333" stroke-width="2.6"/>
<text x="1050.94" y="561.2" font-size="27" fill="#4D4D4D" text-anchor="middle">8</text>
<text x="741.6" y="241.56" font-size="27" fill="#4D4D4D" text-anchor="end">8</text>
<line x1="1141.94" y1="526.7" x2="1141.94" y2="534.7" stroke="#333333" stroke-width="2.6"/>
<line x1="748.1" y1="140.86" x2="756.1" y2="140.86" stroke="#333333" stroke-width="2.6"/>
<text x="1141.94" y="561.2" font-size="27" fill="#4D4D4D" text-anchor="middle">9</text>
<text x="741.6" y="150.56" font-size="27" fill="#4D4D4D" text-anchor="end">9</text>
<line x1="1232.94" y1="526.7" x2="1232.94" y2="534.7" stroke="#333333" stroke-width="2.6"/>
<line x1="748.1" y1="49.86" x2="756.1" y2="49.86" stroke="#333333" stroke-width="2.6"/>
<text x="1232.94" y="561.2" font-size="27" fill="#4D4D4D" text-anchor="middle">10</text>
<text x="741.6" y="59.56" font-size="27" fill="#4D4D4D" text-anchor="end">10</text>
<text x="1004.8" y="594" font-size="27.5" fill="#000" text-anchor="middle">Measured pK<tspan font-size="18" dy="5.2">d</tspan></text>
<text transform="translate(692.7,277.2) rotate(-90)" font-size="27.3" fill="#000" text-anchor="middle">Predicted pK<tspan font-size="18" dy="5.2">d</tspan></text>
<text x="629.5" y="24" font-size="34.5" font-weight="bold" fill="#000">b</text>
<rect x="100.5" y="666.5" width="499.1" height="499.0" fill="#fff"/>
<line x1="167.84" y1="666.5" x2="167.84" y2="1165.5" stroke="#EBEBEB" stroke-width="1.4"/>
<line x1="100.5" y1="1098.16" x2="599.6" y2="1098.16" stroke="#EBEBEB" stroke-width="1.4"/>
<line x1="258.84" y1="666.5" x2="258.84" y2="1165.5" stroke="#EBEBEB" stroke-width="1.4"/>
<line x1="100.5" y1="1007.16" x2="599.6" y2="1007.16" stroke="#EBEBEB" stroke-width="1.4"/>
<line x1="349.84" y1="666.5" x2="349.84" y2="1165.5" stroke="#EBEBEB" stroke-width="1.4"/>
<line x1="100.5" y1="916.16" x2="599.6" y2="916.16" stroke="#EBEBEB" stroke-width="1.4"/>
<line x1="440.84" y1="666.5" x2="440.84" y2="1165.5" stroke="#EBEBEB" stroke-width="1.4"/>
<line x1="100.5" y1="825.16" x2="599.6" y2="825.16" stroke="#EBEBEB" stroke-width="1.4"/>
<line x1="531.84" y1="666.5" x2="531.84" y2="1165.5" stroke="#EBEBEB" stroke-width="1.4"/>
<line x1="100.5" y1="734.16" x2="599.6" y2="734.16" stroke="#EBEBEB" stroke-width="1.4"/>
<line x1="122.34" y1="666.5" x2="122.34" y2="1165.5" stroke="#EBEBEB" stroke-width="2.8"/>
<line x1="100.5" y1="1143.66" x2="599.6" y2="1143.66" stroke="#EBEBEB" stroke-width="2.8"/>
<line x1="213.34" y1="666.5" x2="213.34" y2="1165.5" stroke="#EBEBEB" stroke-width="2.8"/>
<line x1="100.5" y1="1052.66" x2="599.6" y2="1052.66" stroke="#EBEBEB" stroke-width="2.8"/>
<line x1="304.34" y1="666.5" x2="304.34" y2="1165.5" stroke="#EBEBEB" stroke-width="2.8"/>
<line x1="100.5" y1="961.66" x2="599.6" y2="961.66" stroke="#EBEBEB" stroke-width="2.8"/>
<line x1="395.34" y1="666.5" x2="395.34" y2="1165.5" stroke="#EBEBEB" stroke-width="2.8"/>
<line x1="100.5" y1="870.66" x2="599.6" y2="870.66" stroke="#EBEBEB" stroke-width="2.8"/>
<line x1="486.34" y1="666.5" x2="486.34" y2="1165.5" stroke="#EBEBEB" stroke-width="2.8"/>
<line x1="100.5" y1="779.66" x2="599.6" y2="779.66" stroke="#EBEBEB" stroke-width="2.8"/>
<line x1="577.34" y1="666.5" x2="577.34" y2="1165.5" stroke="#EBEBEB" stroke-width="2.8"/>
<line x1="100.5" y1="688.66" x2="599.6" y2="688.66" stroke="#EBEBEB" stroke-width="2.8"/>
<g fill="#333333" fill-opacity="0.5">
<circle cx="347.0" cy="864.1" r="6.85"/>
<circle cx="291.1" cy="893.1" r="6.85"/>
<circle cx="304.4" cy="898.7" r="6.85"/>
<circle cx="235.9" cy="910.4" r="6.85"/>
<circle cx="251.7" cy="913.7" r="6.85"/>
<circle cx="276.7" cy="913.1" r="6.85"/>
<circle cx="297.0" cy="914.1" r="6.85"/>
<circle cx="320.2" cy="910.0" r="6.85"/>
<circle cx="320.7" cy="910.5" r="6.85"/>
<circle cx="333.1" cy="912.2" r="6.85"/>
<circle cx="340.6" cy="914.1" r="6.85"/>
<circle cx="535.2" cy="858.9" r="6.85"/>
<circle cx="491.7" cy="865.9" r="6.85"/>
<circle cx="486.7" cy="875.7" r="6.85"/>
<circle cx="470.4" cy="877.4" r="6.85"/>
<circle cx="402.8" cy="885.9" r="6.85"/>
<circle cx="461.1" cy="893.3" r="6.85"/>
<circle cx="461.1" cy="900.2" r="6.85"/>
<circle cx="461.6" cy="900.7" r="6.85"/>
<circle cx="459.3" cy="906.7" r="6.85"/>
<circle cx="457.4" cy="911.3" r="6.85"/>
<circle cx="440.4" cy="907.6" r="6.85"/>
<circle cx="413.9" cy="908.5" r="6.85"/>
<circle cx="417.6" cy="914.1" r="6.85"/>
<circle cx="400.0" cy="913.1" r="6.85"/>
<circle cx="379.3" cy="913.1" r="6.85"/>
<circle cx="522.6" cy="908.5" r="6.85"/>
<circle cx="514.8" cy="916.0" r="6.85"/>
<circle cx="127.1" cy="955.4" r="6.85"/>
<circle cx="156.8" cy="962.9" r="6.85"/>
<circle cx="184.3" cy="953.3" r="6.85"/>
<circle cx="180.5" cy="963.4" r="6.85"/>
<circle cx="199.6" cy="956.4" r="6.85"/>
<circle cx="203.2" cy="954.4" r="6.85"/>
<circle cx="209.7" cy="959.4" r="6.85"/>
<circle cx="213.7" cy="966.4" r="6.85"/>
<circle cx="214.2" cy="966.9" r="6.85"/>
<circle cx="226.3" cy="962.4" r="6.85"/>
<circle cx="226.3" cy="976.0" r="6.85"/>
<circle cx="195.1" cy="981.0" r="6.85"/>
<circle cx="209.7" cy="989.1" r="6.85"/>
<circle cx="231.9" cy="988.6" r="6.85"/>
<circle cx="227.8" cy="997.7" r="6.85"/>
<circle cx="218.8" cy="998.7" r="6.85"/>
<circle cx="209.7" cy="1003.7" r="6.85"/>
<circle cx="219.3" cy="1009.3" r="6.85"/>
<circle cx="206.7" cy="1015.8" r="6.85"/>
<circle cx="206.2" cy="1017.3" r="6.85"/>
<circle cx="232.9" cy="1015.8" r="6.85"/>
<circle cx="130.6" cy="992.6" r="6.85"/>
<circle cx="150.8" cy="1000.7" r="6.85"/>
<circle cx="166.4" cy="992.6" r="6.85"/>
<circle cx="172.5" cy="994.6" r="6.85"/>
<circle cx="178.5" cy="996.2" r="6.85"/>
<circle cx="182.0" cy="997.7" r="6.85"/>
<circle cx="179.5" cy="1008.7" r="6.85"/>
<circle cx="180.0" cy="1009.2" r="6.85"/>
<circle cx="179.0" cy="1008.2" r="6.85"/>
<circle cx="179.5" cy="1012.8" r="6.85"/>
<circle cx="175.5" cy="1013.8" r="6.85"/>
<circle cx="180.5" cy="1015.8" r="6.85"/>
<circle cx="150.3" cy="1018.8" r="6.85"/>
<circle cx="137.2" cy="1023.9" r="6.85"/>
<circle cx="159.4" cy="1025.9" r="6.85"/>
<circle cx="178.5" cy="1027.9" r="6.85"/>
<circle cx="284.5" cy="922.8" r="6.85"/>
<circle cx="285.5" cy="923.9" r="6.85"/>
<circle cx="306.5" cy="926.5" r="6.85"/>
<circle cx="307.5" cy="927.0" r="6.85"/>
<circle cx="249.9" cy="929.1" r="6.85"/>
<circle cx="334.8" cy="926.0" r="6.85"/>
<circle cx="349.4" cy="929.6" r="6.85"/>
<circle cx="358.8" cy="931.2" r="6.85"/>
<circle cx="261.4" cy="934.3" r="6.85"/>
<circle cx="291.3" cy="936.4" r="6.85"/>
<circle cx="340.0" cy="936.4" r="6.85"/>
<circle cx="349.4" cy="941.7" r="6.85"/>
<circle cx="254.1" cy="946.9" r="6.85"/>
<circle cx="253.0" cy="949.0" r="6.85"/>
<circle cx="275.0" cy="946.9" r="6.85"/>
<circle cx="282.4" cy="952.1" r="6.85"/>
<circle cx="283.4" cy="954.2" r="6.85"/>
<circle cx="304.4" cy="944.8" r="6.85"/>
<circle cx="297.0" cy="951.1" r="6.85"/>
<circle cx="298.1" cy="954.2" r="6.85"/>
<circle cx="245.7" cy="953.2" r="6.85"/>
<circle cx="325.3" cy="954.2" r="6.85"/>
<circle cx="351.5" cy="954.2" r="6.85"/>
<circle cx="231.0" cy="962.6" r="6.85"/>
<circle cx="256.2" cy="961.6" r="6.85"/>
<circle cx="264.6" cy="965.8" r="6.85"/>
<circle cx="266.7" cy="964.7" r="6.85"/>
<circle cx="275.0" cy="960.5" r="6.85"/>
<circle cx="286.6" cy="963.7" r="6.85"/>
<circle cx="329.5" cy="963.7" r="6.85"/>
<circle cx="327.4" cy="967.9" r="6.85"/>
<circle cx="341.0" cy="960.5" r="6.85"/>
<circle cx="358.8" cy="957.4" r="6.85"/>
<circle cx="246.8" cy="972.0" r="6.85"/>
<circle cx="288.7" cy="973.1" r="6.85"/>
<circle cx="300.2" cy="969.9" r="6.85"/>
<circle cx="303.3" cy="972.0" r="6.85"/>
<circle cx="311.7" cy="973.1" r="6.85"/>
<circle cx="316.9" cy="977.3" r="6.85"/>
<circle cx="335.8" cy="978.3" r="6.85"/>
<circle cx="343.1" cy="978.3" r="6.85"/>
<circle cx="358.8" cy="973.1" r="6.85"/>
<circle cx="231.0" cy="976.2" r="6.85"/>
<circle cx="246.8" cy="980.4" r="6.85"/>
<circle cx="247.8" cy="982.5" r="6.85"/>
<circle cx="263.5" cy="983.6" r="6.85"/>
<circle cx="265.6" cy="984.6" r="6.85"/>
<circle cx="275.0" cy="986.7" r="6.85"/>
<circle cx="287.6" cy="982.5" r="6.85"/>
<circle cx="290.8" cy="984.6" r="6.85"/>
<circle cx="305.4" cy="980.4" r="6.85"/>
<circle cx="319.0" cy="980.4" r="6.85"/>
<circle cx="348.4" cy="982.5" r="6.85"/>
<circle cx="357.8" cy="986.7" r="6.85"/>
<circle cx="251.0" cy="995.1" r="6.85"/>
<circle cx="248.9" cy="997.2" r="6.85"/>
<circle cx="279.2" cy="988.8" r="6.85"/>
<circle cx="293.9" cy="991.9" r="6.85"/>
<circle cx="294.9" cy="994.0" r="6.85"/>
<circle cx="307.5" cy="994.0" r="6.85"/>
<circle cx="316.9" cy="991.9" r="6.85"/>
<circle cx="334.8" cy="991.9" r="6.85"/>
<circle cx="358.8" cy="993.0" r="6.85"/>
<circle cx="241.5" cy="1000.3" r="6.85"/>
<circle cx="249.9" cy="1003.5" r="6.85"/>
<circle cx="284.5" cy="1002.4" r="6.85"/>
<circle cx="305.4" cy="1000.3" r="6.85"/>
<circle cx="315.9" cy="1005.6" r="6.85"/>
<circle cx="324.3" cy="1001.4" r="6.85"/>
<circle cx="332.7" cy="1005.6" r="6.85"/>
<circle cx="338.9" cy="1002.4" r="6.85"/>
<circle cx="351.5" cy="1005.6" r="6.85"/>
<circle cx="265.6" cy="1010.8" r="6.85"/>
<circle cx="271.9" cy="1009.8" r="6.85"/>
<circle cx="280.3" cy="1011.9" r="6.85"/>
<circle cx="286.6" cy="1016.0" r="6.85"/>
<circle cx="297.0" cy="1010.8" r="6.85"/>
<circle cx="307.5" cy="1016.0" r="6.85"/>
<circle cx="314.9" cy="1018.1" r="6.85"/>
<circle cx="334.8" cy="1010.8" r="6.85"/>
<circle cx="252.0" cy="1022.3" r="6.85"/>
<circle cx="275.0" cy="1023.4" r="6.85"/>
<circle cx="284.5" cy="1020.2" r="6.85"/>
<circle cx="296.0" cy="1021.3" r="6.85"/>
<circle cx="311.7" cy="1025.5" r="6.85"/>
<circle cx="333.7" cy="1023.4" r="6.85"/>
<circle cx="340.0" cy="1026.5" r="6.85"/>
<circle cx="348.4" cy="1028.6" r="6.85"/>
<circle cx="236.3" cy="1032.8" r="6.85"/>
<circle cx="261.4" cy="1033.8" r="6.85"/>
<circle cx="287.6" cy="1032.8" r="6.85"/>
<circle cx="422.2" cy="924.4" r="6.85"/>
<circle cx="416.7" cy="932.8" r="6.85"/>
<circle cx="417.2" cy="933.3" r="6.85"/>
<circle cx="396.7" cy="928.7" r="6.85"/>
<circle cx="407.8" cy="942.6" r="6.85"/>
<circle cx="403.7" cy="952.8" r="6.85"/>
<circle cx="451.9" cy="921.3" r="6.85"/>
<circle cx="473.1" cy="932.8" r="6.85"/>
<circle cx="455.2" cy="942.6" r="6.85"/>
<circle cx="503.7" cy="931.9" r="6.85"/>
<circle cx="516.3" cy="921.1" r="6.85"/>
<circle cx="556.5" cy="943.5" r="6.85"/>
<circle cx="372.2" cy="943.0" r="6.85"/>
<circle cx="374.1" cy="946.7" r="6.85"/>
<circle cx="385.2" cy="947.6" r="6.85"/>
<circle cx="364.8" cy="960.6" r="6.85"/>
<circle cx="369.4" cy="960.6" r="6.85"/>
<circle cx="372.2" cy="968.0" r="6.85"/>
<circle cx="355.6" cy="979.1" r="6.85"/>
<circle cx="372.2" cy="992.0" r="6.85"/>
<circle cx="361.1" cy="996.7" r="6.85"/>
<circle cx="351.9" cy="997.6" r="6.85"/>
<circle cx="354.6" cy="1009.6" r="6.85"/>
<circle cx="366.3" cy="1016.1" r="6.85"/>
<circle cx="391.7" cy="996.3" r="6.85"/>
<circle cx="400.4" cy="977.8" r="6.85"/>
<circle cx="422.8" cy="974.1" r="6.85"/>
<circle cx="451.9" cy="970.7" r="6.85"/>
<circle cx="453.3" cy="975.7" r="6.85"/>
<circle cx="430.6" cy="1004.1" r="6.85"/>
<circle cx="391.7" cy="1016.7" r="6.85"/>
<circle cx="444.4" cy="1026.3" r="6.85"/>
<circle cx="351.9" cy="1027.2" r="6.85"/>
<circle cx="137.8" cy="1033.9" r="6.85"/>
<circle cx="131.3" cy="1043.1" r="6.85"/>
<circle cx="145.2" cy="1046.9" r="6.85"/>
<circle cx="145.2" cy="1055.2" r="6.85"/>
<circle cx="131.9" cy="1060.4" r="6.85"/>
<circle cx="147.0" cy="1073.7" r="6.85"/>
<circle cx="147.0" cy="1083.9" r="6.85"/>
<circle cx="158.5" cy="1031.5" r="6.85"/>
<circle cx="158.5" cy="1039.4" r="6.85"/>
<circle cx="162.8" cy="1031.1" r="6.85"/>
<circle cx="173.0" cy="1041.3" r="6.85"/>
<circle cx="185.9" cy="1032.0" r="6.85"/>
<circle cx="183.1" cy="1040.4" r="6.85"/>
<circle cx="185.0" cy="1043.1" r="6.85"/>
<circle cx="182.2" cy="1058.0" r="6.85"/>
<circle cx="167.4" cy="1072.8" r="6.85"/>
<circle cx="185.9" cy="1070.4" r="6.85"/>
<circle cx="195.2" cy="1054.3" r="6.85"/>
<circle cx="203.5" cy="1049.3" r="6.85"/>
<circle cx="200.4" cy="1064.1" r="6.85"/>
<circle cx="210.0" cy="1036.3" r="6.85"/>
<circle cx="216.5" cy="1036.7" r="6.85"/>
<circle cx="225.7" cy="1044.1" r="6.85"/>
<circle cx="228.5" cy="1031.1" r="6.85"/>
<circle cx="235.9" cy="1022.8" r="6.85"/>
<circle cx="241.5" cy="1046.9" r="6.85"/>
<circle cx="233.1" cy="1057.0" r="6.85"/>
<circle cx="245.2" cy="1063.5" r="6.85"/>
<circle cx="243.3" cy="1064.4" r="6.85"/>
<circle cx="252.6" cy="1058.9" r="6.85"/>
<circle cx="258.1" cy="1066.3" r="6.85"/>
<circle cx="261.9" cy="1061.7" r="6.85"/>
<circle cx="235.0" cy="1070.0" r="6.85"/>
<circle cx="246.1" cy="1077.4" r="6.85"/>
<circle cx="260.0" cy="1077.4" r="6.85"/>
<circle cx="262.8" cy="1080.2" r="6.85"/>
<circle cx="230.4" cy="1084.4" r="6.85"/>
<circle cx="240.0" cy="1107.4" r="6.85"/>
<circle cx="263.7" cy="1041.3" r="6.85"/>
<circle cx="261.9" cy="1047.8" r="6.85"/>
<circle cx="273.0" cy="1044.1" r="6.85"/>
<circle cx="276.7" cy="1046.9" r="6.85"/>
<circle cx="280.4" cy="1049.6" r="6.85"/>
<circle cx="284.1" cy="1053.3" r="6.85"/>
<circle cx="288.7" cy="1056.1" r="6.85"/>
<circle cx="292.4" cy="1047.8" r="6.85"/>
<circle cx="293.3" cy="1039.4" r="6.85"/>
<circle cx="295.2" cy="1031.1" r="6.85"/>
<circle cx="276.7" cy="1063.5" r="6.85"/>
<circle cx="284.1" cy="1074.6" r="6.85"/>
<circle cx="285.9" cy="1078.3" r="6.85"/>
<circle cx="278.5" cy="1079.3" r="6.85"/>
<circle cx="300.7" cy="1058.9" r="6.85"/>
<circle cx="310.9" cy="1035.7" r="6.85"/>
<circle cx="311.9" cy="1041.3" r="6.85"/>
<circle cx="320.2" cy="1050.6" r="6.85"/>
<circle cx="313.7" cy="1057.0" r="6.85"/>
<circle cx="309.1" cy="1071.9" r="6.85"/>
<circle cx="309.6" cy="1073.7" r="6.85"/>
<circle cx="316.5" cy="1086.1" r="6.85"/>
<circle cx="334.1" cy="1061.7" r="6.85"/>
<circle cx="334.6" cy="1062.2" r="6.85"/>
<circle cx="338.7" cy="1040.4" r="6.85"/>
<circle cx="359.1" cy="1077.8" r="6.85"/>
<circle cx="122.3" cy="947.3" r="6.85"/>
<circle cx="122.3" cy="982.5" r="6.85"/>
<circle cx="122.3" cy="983.0" r="6.85"/>
<circle cx="122.3" cy="993.2" r="6.85"/>
<circle cx="122.3" cy="1008.0" r="6.85"/>
<circle cx="122.3" cy="1010.2" r="6.85"/>
<circle cx="122.3" cy="1012.4" r="6.85"/>
<circle cx="122.3" cy="1014.6" r="6.85"/>
<circle cx="122.3" cy="1016.8" r="6.85"/>
<circle cx="122.3" cy="1019.0" r="6.85"/>
<circle cx="122.3" cy="1021.2" r="6.85"/>
<circle cx="122.3" cy="1023.4" r="6.85"/>
<circle cx="122.3" cy="1025.6" r="6.85"/>
<circle cx="122.3" cy="1027.8" r="6.85"/>
<circle cx="122.3" cy="1030.0" r="6.85"/>
<circle cx="122.3" cy="1032.2" r="6.85"/>
<circle cx="122.3" cy="1034.4" r="6.85"/>
<circle cx="122.3" cy="1036.6" r="6.85"/>
<circle cx="122.3" cy="1038.8" r="6.85"/>
<circle cx="122.3" cy="1041.0" r="6.85"/>
<circle cx="122.3" cy="1043.2" r="6.85"/>
<circle cx="122.3" cy="1045.4" r="6.85"/>
<circle cx="122.3" cy="1047.6" r="6.85"/>
<circle cx="122.3" cy="1049.8" r="6.85"/>
<circle cx="122.3" cy="1052.0" r="6.85"/>
<circle cx="122.3" cy="1054.2" r="6.85"/>
<circle cx="122.3" cy="1056.4" r="6.85"/>
<circle cx="122.3" cy="1058.6" r="6.85"/>
<circle cx="122.3" cy="1060.8" r="6.85"/>
<circle cx="122.3" cy="1063.0" r="6.85"/>
<circle cx="122.3" cy="1065.2" r="6.85"/>
<circle cx="122.3" cy="1067.4" r="6.85"/>
<circle cx="122.3" cy="1069.6" r="6.85"/>
<circle cx="122.3" cy="1071.8" r="6.85"/>
<circle cx="122.3" cy="1074.0" r="6.85"/>
<circle cx="122.3" cy="1076.2" r="6.85"/>
<circle cx="122.3" cy="1078.4" r="6.85"/>
<circle cx="122.3" cy="1080.6" r="6.85"/>
<circle cx="122.3" cy="1082.8" r="6.85"/>
<circle cx="122.3" cy="1085.0" r="6.85"/>
<circle cx="122.3" cy="1087.2" r="6.85"/>
<circle cx="122.3" cy="1089.4" r="6.85"/>
<circle cx="122.3" cy="1091.6" r="6.85"/>
<circle cx="122.3" cy="1093.8" r="6.85"/>
<circle cx="122.3" cy="1096.0" r="6.85"/>
<circle cx="122.3" cy="1098.2" r="6.85"/>
<circle cx="122.3" cy="1100.4" r="6.85"/>
<circle cx="122.3" cy="1107.0" r="6.85"/>
<circle cx="122.3" cy="1110.5" r="6.85"/>
<circle cx="282.2" cy="953.3" r="6.85"/>
<circle cx="283.0" cy="954.0" r="6.85"/>
<circle cx="264.5" cy="963.8" r="6.85"/>
<circle cx="253.2" cy="947.7" r="6.85"/>
<circle cx="246.7" cy="979.9" r="6.85"/>
<circle cx="264.5" cy="984.8" r="6.85"/>
<circle cx="277.4" cy="986.4" r="6.85"/>
<circle cx="290.2" cy="991.2" r="6.85"/>
<circle cx="291.0" cy="990.5" r="6.85"/>
<circle cx="301.5" cy="970.2" r="6.85"/>
<circle cx="328.9" cy="965.4" r="6.85"/>
<circle cx="341.8" cy="978.3" r="6.85"/>
<circle cx="366.0" cy="960.6" r="6.85"/>
<circle cx="248.3" cy="997.6" r="6.85"/>
<circle cx="233.8" cy="1015.4" r="6.85"/>
<circle cx="229.0" cy="1031.5" r="6.85"/>
<circle cx="280.6" cy="1017.0" r="6.85"/>
<circle cx="296.7" cy="1020.2" r="6.85"/>
<circle cx="333.8" cy="1025.0" r="6.85"/>
<circle cx="345.0" cy="1029.9" r="6.85"/>
<circle cx="277.4" cy="1046.0" r="6.85"/>
<circle cx="278.2" cy="1046.6" r="6.85"/>
<circle cx="264.5" cy="1042.8" r="6.85"/>
<circle cx="283.8" cy="1052.4" r="6.85"/>
<circle cx="243.5" cy="1063.7" r="6.85"/>
<circle cx="316.0" cy="1021.8" r="6.85"/>
<circle cx="332.2" cy="1005.7" r="6.85"/>
<circle cx="312.8" cy="992.8" r="6.85"/>
<circle cx="304.8" cy="925.1" r="6.85"/>
<circle cx="337.0" cy="917.1" r="6.85"/>
<circle cx="349.9" cy="930.0" r="6.85"/>
</g>
<line x1="100.5" y1="1165.5" x2="599.6" y2="666.5" stroke="#BEBEBE" stroke-width="2.6"/>
<text x="128.3" y="710.6999999999999" font-size="21.6" fill="#000">RMSE = 0.854</text>
<text x="128.3" y="742.5" font-size="21.6" fill="#000">Spearman = 0.619</text>
<rect x="100.5" y="666.5" width="499.1" height="499.0" fill="none" stroke="#333333" stroke-width="1.5"/>
<line x1="122.34" y1="1165.5" x2="122.34" y2="1173.5" stroke="#333333" stroke-width="2.6"/>
<line x1="92.5" y1="1143.66" x2="100.5" y2="1143.66" stroke="#333333" stroke-width="2.6"/>
<text x="122.34" y="1200.0" font-size="27" fill="#4D4D4D" text-anchor="middle">5</text>
<text x="86.0" y="1153.36" font-size="27" fill="#4D4D4D" text-anchor="end">5</text>
<line x1="213.34" y1="1165.5" x2="213.34" y2="1173.5" stroke="#333333" stroke-width="2.6"/>
<line x1="92.5" y1="1052.66" x2="100.5" y2="1052.66" stroke="#333333" stroke-width="2.6"/>
<text x="213.34" y="1200.0" font-size="27" fill="#4D4D4D" text-anchor="middle">6</text>
<text x="86.0" y="1062.36" font-size="27" fill="#4D4D4D" text-anchor="end">6</text>
<line x1="304.34" y1="1165.5" x2="304.34" y2="1173.5" stroke="#333333" stroke-width="2.6"/>
<line x1="92.5" y1="961.66" x2="100.5" y2="961.66" stroke="#333333" stroke-width="2.6"/>
<text x="304.34" y="1200.0" font-size="27" fill="#4D4D4D" text-anchor="middle">7</text>
<text x="86.0" y="971.36" font-size="27" fill="#4D4D4D" text-anchor="end">7</text>
<line x1="395.34" y1="1165.5" x2="395.34" y2="1173.5" stroke="#333333" stroke-width="2.6"/>
<line x1="92.5" y1="870.66" x2="100.5" y2="870.66" stroke="#333333" stroke-width="2.6"/>
<text x="395.34" y="1200.0" font-size="27" fill="#4D4D4D" text-anchor="middle">8</text>
<text x="86.0" y="880.36" font-size="27" fill="#4D4D4D" text-anchor="end">8</text>
<line x1="486.34" y1="1165.5" x2="486.34" y2="1173.5" stroke="#333333" stroke-width="2.6"/>
<line x1="92.5" y1="779.66" x2="100.5" y2="779.66" stroke="#333333" stroke-width="2.6"/>
<text x="486.34" y="1200.0" font-size="27" fill="#4D4D4D" text-anchor="middle">9</text>
<text x="86.0" y="789.36" font-size="27" fill="#4D4D4D" text-anchor="end">9</text>
<line x1="577.34" y1="1165.5" x2="577.34" y2="1173.5" stroke="#333333" stroke-width="2.6"/>
<line x1="92.5" y1="688.66" x2="100.5" y2="688.66" stroke="#333333" stroke-width="2.6"/>
<text x="577.34" y="1200.0" font-size="27" fill="#4D4D4D" text-anchor="middle">10</text>
<text x="86.0" y="698.36" font-size="27" fill="#4D4D4D" text-anchor="end">10</text>
<text x="349.2" y="1232.8" font-size="27.5" fill="#000" text-anchor="middle">Measured pK<tspan font-size="18" dy="5.2">d</tspan></text>
<text transform="translate(37.1,916.0) rotate(-90)" font-size="27.3" fill="#000" text-anchor="middle">Predicted pK<tspan font-size="18" dy="5.2">d</tspan></text>
<text x="-1.0" y="662.8" font-size="34.5" font-weight="bold" fill="#000">c</text>
<rect x="756.2" y="666.5" width="498.79999999999995" height="498.70000000000005" fill="#fff"/>
<line x1="857.02" y1="666.5" x2="857.02" y2="1165.2" stroke="#EBEBEB" stroke-width="1.4"/>
<line x1="1032.08" y1="666.5" x2="1032.08" y2="1165.2" stroke="#EBEBEB" stroke-width="1.4"/>
<line x1="1207.12" y1="666.5" x2="1207.12" y2="1165.2" stroke="#EBEBEB" stroke-width="1.4"/>
<line x1="756.2" y1="686.70" x2="1255.0" y2="686.70" stroke="#EBEBEB" stroke-width="1.4"/>
<line x1="756.2" y1="813.70" x2="1255.0" y2="813.70" stroke="#EBEBEB" stroke-width="1.4"/>
<line x1="756.2" y1="940.70" x2="1255.0" y2="940.70" stroke="#EBEBEB" stroke-width="1.4"/>
<line x1="756.2" y1="1067.70" x2="1255.0" y2="1067.70" stroke="#EBEBEB" stroke-width="1.4"/>
<line x1="769.50" y1="666.5" x2="769.50" y2="1165.2" stroke="#EBEBEB" stroke-width="2.8"/>
<line x1="944.55" y1="666.5" x2="944.55" y2="1165.2" stroke="#EBEBEB" stroke-width="2.8"/>
<line x1="1119.60" y1="666.5" x2="1119.60" y2="1165.2" stroke="#EBEBEB" stroke-width="2.8"/>
<line x1="756.2" y1="750.20" x2="1255.0" y2="750.20" stroke="#EBEBEB" stroke-width="2.8"/>
<line x1="756.2" y1="877.20" x2="1255.0" y2="877.20" stroke="#EBEBEB" stroke-width="2.8"/>
<line x1="756.2" y1="1004.20" x2="1255.0" y2="1004.20" stroke="#EBEBEB" stroke-width="2.8"/>
<line x1="756.2" y1="1131.20" x2="1255.0" y2="1131.20" stroke="#EBEBEB" stroke-width="2.8"/>
<polyline points="778.25,745.5 787.00,911.9 795.76,941.2 804.51,961.8 813.26,940.0 822.01,917.2 830.77,901.5 839.52,909.0 848.27,911.8 857.02,902.0 865.78,890.2 874.53,884.5 883.28,877.2 892.03,884.5 900.79,891.7 909.54,893.3 918.29,882.5 927.04,879.6 935.80,883.2 944.55,886.9 953.30,884.4 962.05,877.3 970.81,866.5 979.56,876.4 988.31,872.7 997.07,868.6 1005.82,860.0 1014.57,860.4 1023.32,816.4 1032.08,820.0 1040.83,829.3 1049.58,823.3 1058.33,818.6 1067.09,831.2 1075.84,825.9 1084.59,820.0 1093.34,821.5 1102.10,812.8 1110.85,801.7 1119.60,808.5 1128.35,806.6 1137.11,808.9 1145.86,807.7 1154.61,799.3 1163.36,794.2 1172.12,790.3 1180.87,784.6 1189.62,776.7 1198.37,767.7 1207.12,763.7 1215.88,760.9 1224.63,738.9 1233.38,732.5" fill="none" stroke="#000" stroke-width="2.8" stroke-dasharray="11 8" stroke-linejoin="round"/>
<polyline points="778.25,965.8 787.00,827.7 795.76,753.5 804.51,688.5 813.26,707.0 822.01,726.5 830.77,752.0 839.52,770.4 848.27,787.2 857.02,804.8 865.78,822.4 874.53,842.3 883.28,861.7 892.03,857.4 900.79,858.5 909.54,866.7 918.29,895.7 927.04,902.2 935.80,873.5 944.55,853.8 953.30,859.8 962.05,879.9 970.81,915.4 979.56,907.8 988.31,921.0 997.07,936.3 1005.82,957.3 1014.57,960.2 1023.32,950.8 1032.08,942.0 1040.83,941.6 1049.58,956.1 1058.33,965.4 1067.09,965.0 1075.84,981.5 1084.59,974.7 1093.34,970.5 1102.10,989.9 1110.85,1002.9 1119.60,1001.8 1128.35,992.5 1137.11,1003.1 1145.86,1003.1 1154.61,1018.7 1163.36,1030.0 1172.12,1021.2 1180.87,1032.2 1189.62,1061.0 1198.37,1075.4 1207.12,1075.4 1215.88,1088.6 1224.63,1094.0 1233.38,1142.7" fill="none" stroke="#000" stroke-width="2.8" stroke-linejoin="round"/>
<circle cx="778.25" cy="745.5" r="7.5" fill="#8B1A11"/>
<circle cx="778.25" cy="965.8" r="7.5" fill="#8B1A11"/>
<circle cx="787.00" cy="911.9" r="7.5" fill="#0A6BE0"/>
<circle cx="787.00" cy="827.7" r="7.5" fill="#0A6BE0"/>
<circle cx="795.76" cy="941.2" r="7.5" fill="#0A9E74"/>
<circle cx="795.76" cy="753.5" r="7.5" fill="#0A9E74"/>
<circle cx="804.51" cy="961.8" r="7.5" fill="#E69F00"/>
<circle cx="804.51" cy="688.5" r="7.5" fill="#E69F00"/>
<line x1="1046" y1="702.3" x2="1084.7" y2="702.3" stroke="#000" stroke-width="2.8" stroke-dasharray="11 8"/>
<line x1="1046" y1="735.3" x2="1083.3" y2="735.3" stroke="#000" stroke-width="2.8"/>
<text x="1097" y="710.9" font-size="21.6" fill="#000">RMSE</text>
<text x="1096.5" y="741" font-size="21.6" fill="#000">Spearman</text>
<circle cx="788.7" cy="1022" r="6.5" fill="#8B1A11"/>
<text x="807.5" y="1029.7" font-size="22" fill="#000">Q.E.D</text>
<circle cx="788.7" cy="1051.2" r="6.5" fill="#0A6BE0"/>
<text x="807.5" y="1058.9" font-size="22" fill="#000">+ Gregory Koytiger</text>
<circle cx="788.7" cy="1081.1" r="6.5" fill="#0A9E74"/>
<text x="807.5" y="1089.4" font-size="22" fill="#000">+ AI Winter is Coming</text>
<circle cx="788.7" cy="1110" r="6.5" fill="#E69F00"/>
<text x="807.5" y="1116.7" font-size="22" fill="#000">+ Oliver Labayle</text>
<rect x="756.2" y="666.5" width="498.79999999999995" height="498.70000000000005" fill="none" stroke="#333333" stroke-width="1.5"/>
<line x1="769.50" y1="1165.2" x2="769.50" y2="1173.2" stroke="#333333" stroke-width="2.6"/>
<text x="769.50" y="1199.6" font-size="27" fill="#4D4D4D" text-anchor="middle">0</text>
<line x1="944.55" y1="1165.2" x2="944.55" y2="1173.2" stroke="#333333" stroke-width="2.6"/>
<text x="944.55" y="1199.6" font-size="27" fill="#4D4D4D" text-anchor="middle">20</text>
<line x1="1119.60" y1="1165.2" x2="1119.60" y2="1173.2" stroke="#333333" stroke-width="2.6"/>
<text x="1119.60" y="1199.6" font-size="27" fill="#4D4D4D" text-anchor="middle">40</text>
<line x1="748.2" y1="750.20" x2="756.2" y2="750.20" stroke="#333333" stroke-width="2.6"/>
<text x="742.0" y="759.90" font-size="27" fill="#4D4D4D" text-anchor="end">0.60</text>
<line x1="748.2" y1="877.20" x2="756.2" y2="877.20" stroke="#333333" stroke-width="2.6"/>
<text x="742.0" y="886.90" font-size="27" fill="#4D4D4D" text-anchor="end">0.56</text>
<line x1="748.2" y1="1004.20" x2="756.2" y2="1004.20" stroke="#333333" stroke-width="2.6"/>
<text x="742.0" y="1013.90" font-size="27" fill="#4D4D4D" text-anchor="end">0.52</text>
<line x1="748.2" y1="1131.20" x2="756.2" y2="1131.20" stroke="#333333" stroke-width="2.6"/>
<text x="742.0" y="1140.90" font-size="27" fill="#4D4D4D" text-anchor="end">0.48</text>
<line x1="1255.0" y1="670.80" x2="1263.0" y2="670.80" stroke="#333333" stroke-width="2.6"/>
<text x="1270.0" y="680.50" font-size="27" fill="#4D4D4D">1.00</text>
<line x1="1255.0" y1="769.70" x2="1263.0" y2="769.70" stroke="#333333" stroke-width="2.6"/>
<text x="1270.0" y="779.40" font-size="27" fill="#4D4D4D">0.95</text>
<line x1="1255.0" y1="868.60" x2="1263.0" y2="868.60" stroke="#333333" stroke-width="2.6"/>
<text x="1270.0" y="878.30" font-size="27" fill="#4D4D4D">0.90</text>
<line x1="1255.0" y1="967.50" x2="1263.0" y2="967.50" stroke="#333333" stroke-width="2.6"/>
<text x="1270.0" y="977.20" font-size="27" fill="#4D4D4D">0.85</text>
<line x1="1255.0" y1="1066.40" x2="1263.0" y2="1066.40" stroke="#333333" stroke-width="2.6"/>
<text x="1270.0" y="1076.10" font-size="27" fill="#4D4D4D">0.80</text>
<text x="1005.6" y="1235.6" font-size="27.2" fill="#000" text-anchor="middle">Number of top models</text>
<text transform="translate(672.6,913.6) rotate(-90)" font-size="27" fill="#000" text-anchor="middle" textLength="266" lengthAdjust="spacingAndGlyphs">Spearman correlation</text>
<text transform="translate(1330,916.5) rotate(90)" font-size="27" fill="#000" text-anchor="middle">RMSE</text>
<text x="629" y="662.7" font-size="34.5" font-weight="bold" fill="#000">d</text>
</svg>
</body></html>
